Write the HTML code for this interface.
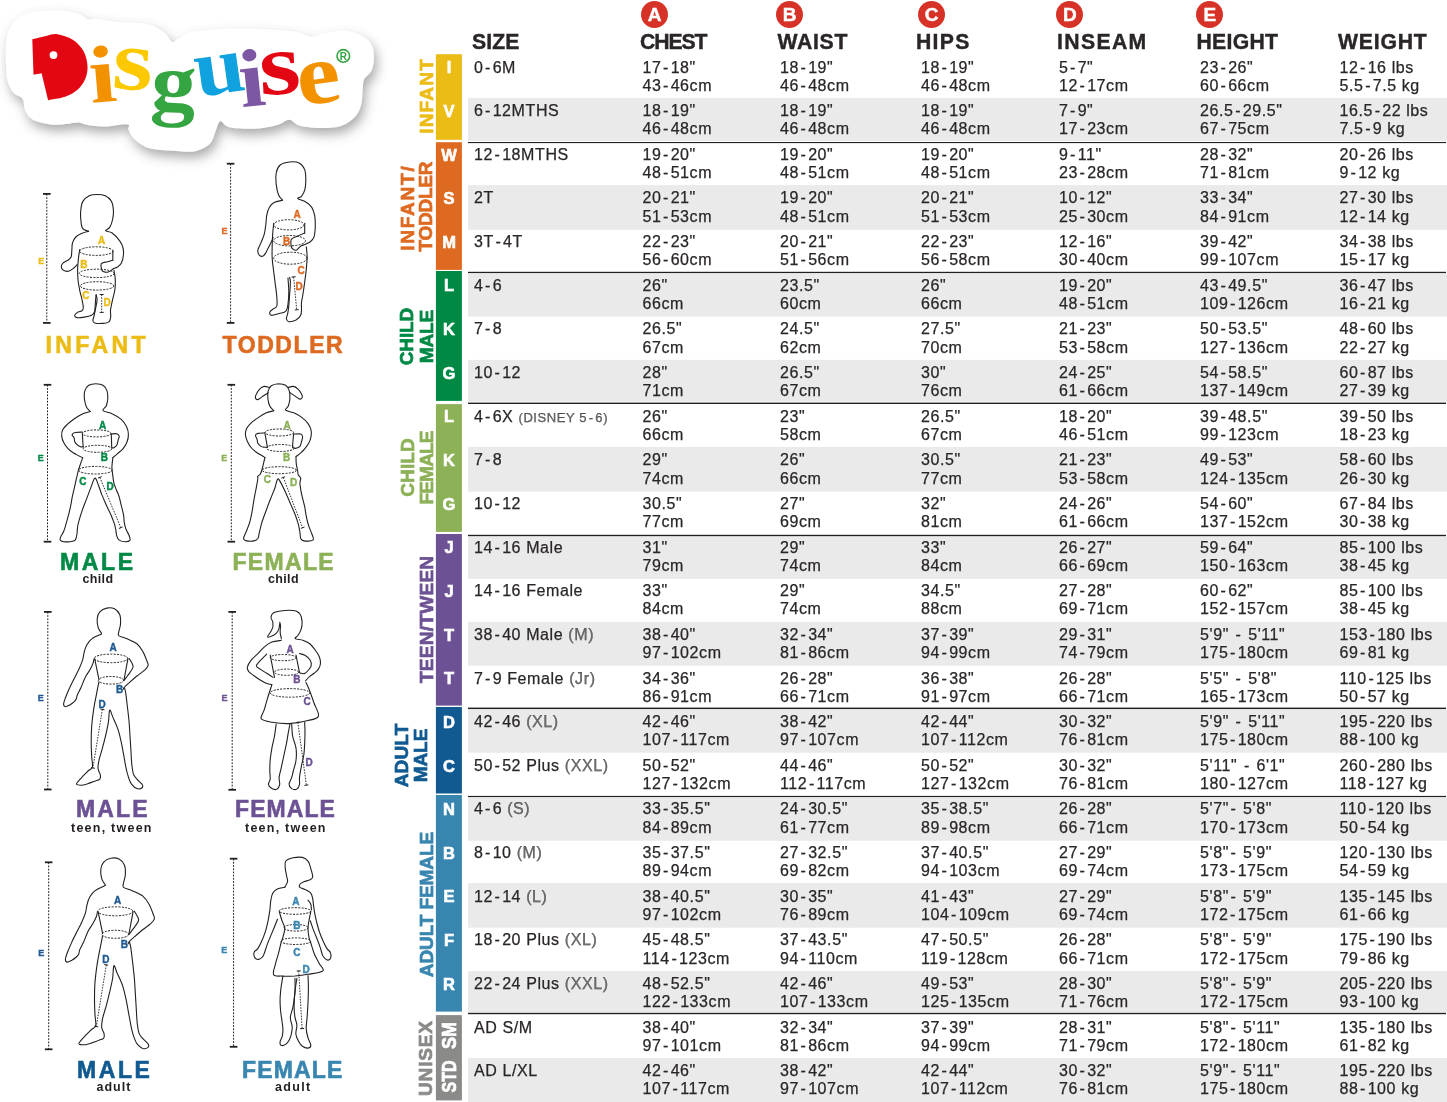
<!DOCTYPE html><html><head><meta charset='utf-8'><style>
*{margin:0;padding:0;box-sizing:border-box}
html,body{width:1447px;height:1102px;overflow:hidden;background:#fff}
body{position:relative;font-family:"Liberation Sans",Arial,sans-serif;color:#2a2627}
.a{position:absolute;white-space:nowrap}
.rowbg{position:absolute;left:468px;width:979px;background:#eaeaea}
.sep{position:absolute;left:468px;width:978px;height:1.6px;background:#231f20}
.cell{-webkit-text-stroke:0.25px #2a2627;position:absolute;white-space:nowrap;font-size:16.0px;line-height:18.2px;letter-spacing:0.6px}
.cell i{font-style:normal;margin:0 1.6px}
.q{color:#6e6e6e}
.q.s{font-size:13px}
.hd{-webkit-text-stroke:0.4px #2a2627;position:absolute;white-space:nowrap;font-weight:bold;font-size:21.2px;line-height:1}
.circ{position:absolute;width:27px;height:27px;border-radius:50%;background:#d73228;color:#fff;font-weight:bold;font-size:19px;line-height:27px;text-align:center;-webkit-text-stroke:0.4px #fff}
.bar{position:absolute;left:436px;width:26px}
.bl{-webkit-text-stroke:0.6px #fff;position:absolute;left:436px;width:26px;text-align:center;color:#fff;font-weight:bold;font-size:16.5px;line-height:20px}
.glab{-webkit-text-stroke:0.7px currentColor;position:absolute;font-weight:bold;font-size:19px;line-height:19px;letter-spacing:1px;text-align:center;white-space:nowrap;transform:rotate(-90deg);transform-origin:center center}
.flab{-webkit-text-stroke:0.6px currentColor;position:absolute;font-weight:bold;font-size:23px;line-height:1;white-space:nowrap}
.fsub{position:absolute;font-weight:bold;font-size:12.5px;line-height:1;color:#231f20;white-space:nowrap}
</style></head><body>
<svg class="a" style="left:0;top:0" width="1447" height="1102" viewBox="0 0 1447 1102"><rect x="468" y="97.9" width="979" height="43.00" fill="#eaeaea"/><rect x="468" y="185.1" width="979" height="44.70" fill="#eaeaea"/><rect x="468" y="273.6" width="979" height="43.10" fill="#eaeaea"/><rect x="468" y="359.9" width="979" height="41.80" fill="#eaeaea"/><rect x="468" y="446.9" width="979" height="44.80" fill="#eaeaea"/><rect x="468" y="536.8" width="979" height="42.00" fill="#eaeaea"/><rect x="468" y="621.9" width="979" height="43.80" fill="#eaeaea"/><rect x="468" y="709.6" width="979" height="43.10" fill="#eaeaea"/><rect x="468" y="797.5" width="979" height="43.30" fill="#eaeaea"/><rect x="468" y="883.1" width="979" height="44.60" fill="#eaeaea"/><rect x="468" y="971.1" width="979" height="41.00" fill="#eaeaea"/><rect x="468" y="1058.0" width="979" height="44.00" fill="#eaeaea"/><rect x="468" y="142.0" width="978" height="1.10" fill="#231f20"/><rect x="468" y="271.8" width="978" height="1.30" fill="#231f20"/><rect x="468" y="402.6" width="978" height="1.40" fill="#231f20"/><rect x="468" y="534.8" width="978" height="1.40" fill="#231f20"/><rect x="468" y="707.6" width="978" height="1.50" fill="#231f20"/><rect x="468" y="795.9" width="978" height="1.20" fill="#231f20"/><rect x="468" y="1012.8" width="978" height="1.40" fill="#231f20"/><rect x="435.9" y="54.2" width="26" height="85.60" fill="#ecbc16"/><rect x="435.9" y="142.2" width="26" height="127.70" fill="#de6a22"/><rect x="435.9" y="271.0" width="26" height="129.90" fill="#008945"/><rect x="435.9" y="404.1" width="26" height="127.80" fill="#8cb157"/><rect x="435.9" y="534.0" width="26" height="171.60" fill="#6c5294"/><rect x="435.9" y="707.0" width="26" height="86.50" fill="#105a91"/><rect x="435.9" y="795.0" width="26" height="216.60" fill="#3886b0"/><rect x="435.9" y="1015.1" width="26" height="85.30" fill="#8a8a88"/></svg>
<div class="hd" style="left:472.00px;top:31.00px;letter-spacing:0.13px">SIZE</div>
<div class="hd" style="left:640.00px;top:31.00px;letter-spacing:-1.10px">CHEST</div>
<div class="circ" style="left:641.00px;top:1px">A</div>
<div class="hd" style="left:777.50px;top:31.00px;letter-spacing:0.70px">WAIST</div>
<div class="circ" style="left:776.20px;top:1px">B</div>
<div class="hd" style="left:916.00px;top:31.00px;letter-spacing:1.27px">HIPS</div>
<div class="circ" style="left:918.10px;top:1px">C</div>
<div class="hd" style="left:1057.00px;top:31.00px;letter-spacing:1.36px">INSEAM</div>
<div class="circ" style="left:1056.40px;top:1px">D</div>
<div class="hd" style="left:1196.50px;top:31.00px;letter-spacing:0.28px">HEIGHT</div>
<div class="circ" style="left:1196.30px;top:1px">E</div>
<div class="hd" style="left:1338.00px;top:31.00px;letter-spacing:0.80px">WEIGHT</div>
<div class="cell" style="left:474.0px;top:58.56px">0<i>-</i>6M</div>
<div class="cell" style="left:642.5px;top:58.56px">17<i>-</i>18&quot;<br>43<i>-</i>46cm</div>
<div class="cell" style="left:780.0px;top:58.56px">18<i>-</i>19&quot;<br>46<i>-</i>48cm</div>
<div class="cell" style="left:921.0px;top:58.56px">18<i>-</i>19&quot;<br>46<i>-</i>48cm</div>
<div class="cell" style="left:1059.0px;top:58.56px">5<i>-</i>7&quot;<br>12<i>-</i>17cm</div>
<div class="cell" style="left:1200.0px;top:58.56px">23<i>-</i>26&quot;<br>60<i>-</i>66cm</div>
<div class="cell" style="left:1339.5px;top:58.56px">12<i>-</i>16 lbs<br>5.5<i>-</i>7.5 kg</div>
<div class="cell" style="left:474.0px;top:102.20px">6<i>-</i>12MTHS</div>
<div class="cell" style="left:642.5px;top:102.20px">18<i>-</i>19&quot;<br>46<i>-</i>48cm</div>
<div class="cell" style="left:780.0px;top:102.20px">18<i>-</i>19&quot;<br>46<i>-</i>48cm</div>
<div class="cell" style="left:921.0px;top:102.20px">18<i>-</i>19&quot;<br>46<i>-</i>48cm</div>
<div class="cell" style="left:1059.0px;top:102.20px">7<i>-</i>9&quot;<br>17<i>-</i>23cm</div>
<div class="cell" style="left:1200.0px;top:102.20px">26.5<i>-</i>29.5&quot;<br>67<i>-</i>75cm</div>
<div class="cell" style="left:1339.5px;top:102.20px">16.5<i>-</i>22 lbs<br>7.5<i>-</i>9 kg</div>
<div class="cell" style="left:474.0px;top:145.84px">12<i>-</i>18MTHS</div>
<div class="cell" style="left:642.5px;top:145.84px">19<i>-</i>20&quot;<br>48<i>-</i>51cm</div>
<div class="cell" style="left:780.0px;top:145.84px">19<i>-</i>20&quot;<br>48<i>-</i>51cm</div>
<div class="cell" style="left:921.0px;top:145.84px">19<i>-</i>20&quot;<br>48<i>-</i>51cm</div>
<div class="cell" style="left:1059.0px;top:145.84px">9<i>-</i>11&quot;<br>23<i>-</i>28cm</div>
<div class="cell" style="left:1200.0px;top:145.84px">28<i>-</i>32&quot;<br>71<i>-</i>81cm</div>
<div class="cell" style="left:1339.5px;top:145.84px">20<i>-</i>26 lbs<br>9<i>-</i>12 kg</div>
<div class="cell" style="left:474.0px;top:189.48px">2T</div>
<div class="cell" style="left:642.5px;top:189.48px">20<i>-</i>21&quot;<br>51<i>-</i>53cm</div>
<div class="cell" style="left:780.0px;top:189.48px">19<i>-</i>20&quot;<br>48<i>-</i>51cm</div>
<div class="cell" style="left:921.0px;top:189.48px">20<i>-</i>21&quot;<br>51<i>-</i>53cm</div>
<div class="cell" style="left:1059.0px;top:189.48px">10<i>-</i>12&quot;<br>25<i>-</i>30cm</div>
<div class="cell" style="left:1200.0px;top:189.48px">33<i>-</i>34&quot;<br>84<i>-</i>91cm</div>
<div class="cell" style="left:1339.5px;top:189.48px">27<i>-</i>30 lbs<br>12<i>-</i>14 kg</div>
<div class="cell" style="left:474.0px;top:233.12px">3T<i>-</i>4T</div>
<div class="cell" style="left:642.5px;top:233.12px">22<i>-</i>23&quot;<br>56<i>-</i>60cm</div>
<div class="cell" style="left:780.0px;top:233.12px">20<i>-</i>21&quot;<br>51<i>-</i>56cm</div>
<div class="cell" style="left:921.0px;top:233.12px">22<i>-</i>23&quot;<br>56<i>-</i>58cm</div>
<div class="cell" style="left:1059.0px;top:233.12px">12<i>-</i>16&quot;<br>30<i>-</i>40cm</div>
<div class="cell" style="left:1200.0px;top:233.12px">39<i>-</i>42&quot;<br>99<i>-</i>107cm</div>
<div class="cell" style="left:1339.5px;top:233.12px">34<i>-</i>38 lbs<br>15<i>-</i>17 kg</div>
<div class="cell" style="left:474.0px;top:276.76px">4<i>-</i>6</div>
<div class="cell" style="left:642.5px;top:276.76px">26&quot;<br>66cm</div>
<div class="cell" style="left:780.0px;top:276.76px">23.5&quot;<br>60cm</div>
<div class="cell" style="left:921.0px;top:276.76px">26&quot;<br>66cm</div>
<div class="cell" style="left:1059.0px;top:276.76px">19<i>-</i>20&quot;<br>48<i>-</i>51cm</div>
<div class="cell" style="left:1200.0px;top:276.76px">43<i>-</i>49.5&quot;<br>109<i>-</i>126cm</div>
<div class="cell" style="left:1339.5px;top:276.76px">36<i>-</i>47 lbs<br>16<i>-</i>21 kg</div>
<div class="cell" style="left:474.0px;top:320.40px">7<i>-</i>8</div>
<div class="cell" style="left:642.5px;top:320.40px">26.5&quot;<br>67cm</div>
<div class="cell" style="left:780.0px;top:320.40px">24.5&quot;<br>62cm</div>
<div class="cell" style="left:921.0px;top:320.40px">27.5&quot;<br>70cm</div>
<div class="cell" style="left:1059.0px;top:320.40px">21<i>-</i>23&quot;<br>53<i>-</i>58cm</div>
<div class="cell" style="left:1200.0px;top:320.40px">50<i>-</i>53.5&quot;<br>127<i>-</i>136cm</div>
<div class="cell" style="left:1339.5px;top:320.40px">48<i>-</i>60 lbs<br>22<i>-</i>27 kg</div>
<div class="cell" style="left:474.0px;top:364.04px">10<i>-</i>12</div>
<div class="cell" style="left:642.5px;top:364.04px">28&quot;<br>71cm</div>
<div class="cell" style="left:780.0px;top:364.04px">26.5&quot;<br>67cm</div>
<div class="cell" style="left:921.0px;top:364.04px">30&quot;<br>76cm</div>
<div class="cell" style="left:1059.0px;top:364.04px">24<i>-</i>25&quot;<br>61<i>-</i>66cm</div>
<div class="cell" style="left:1200.0px;top:364.04px">54<i>-</i>58.5&quot;<br>137<i>-</i>149cm</div>
<div class="cell" style="left:1339.5px;top:364.04px">60<i>-</i>87 lbs<br>27<i>-</i>39 kg</div>
<div class="cell" style="left:474.0px;top:407.68px">4<i>-</i>6X <span class="q s">(DISNEY 5<i>-</i>6)</span></div>
<div class="cell" style="left:642.5px;top:407.68px">26&quot;<br>66cm</div>
<div class="cell" style="left:780.0px;top:407.68px">23&quot;<br>58cm</div>
<div class="cell" style="left:921.0px;top:407.68px">26.5&quot;<br>67cm</div>
<div class="cell" style="left:1059.0px;top:407.68px">18<i>-</i>20&quot;<br>46<i>-</i>51cm</div>
<div class="cell" style="left:1200.0px;top:407.68px">39<i>-</i>48.5&quot;<br>99<i>-</i>123cm</div>
<div class="cell" style="left:1339.5px;top:407.68px">39<i>-</i>50 lbs<br>18<i>-</i>23 kg</div>
<div class="cell" style="left:474.0px;top:451.32px">7<i>-</i>8</div>
<div class="cell" style="left:642.5px;top:451.32px">29&quot;<br>74cm</div>
<div class="cell" style="left:780.0px;top:451.32px">26&quot;<br>66cm</div>
<div class="cell" style="left:921.0px;top:451.32px">30.5&quot;<br>77cm</div>
<div class="cell" style="left:1059.0px;top:451.32px">21<i>-</i>23&quot;<br>53<i>-</i>58cm</div>
<div class="cell" style="left:1200.0px;top:451.32px">49<i>-</i>53&quot;<br>124<i>-</i>135cm</div>
<div class="cell" style="left:1339.5px;top:451.32px">58<i>-</i>60 lbs<br>26<i>-</i>30 kg</div>
<div class="cell" style="left:474.0px;top:494.96px">10<i>-</i>12</div>
<div class="cell" style="left:642.5px;top:494.96px">30.5&quot;<br>77cm</div>
<div class="cell" style="left:780.0px;top:494.96px">27&quot;<br>69cm</div>
<div class="cell" style="left:921.0px;top:494.96px">32&quot;<br>81cm</div>
<div class="cell" style="left:1059.0px;top:494.96px">24<i>-</i>26&quot;<br>61<i>-</i>66cm</div>
<div class="cell" style="left:1200.0px;top:494.96px">54<i>-</i>60&quot;<br>137<i>-</i>152cm</div>
<div class="cell" style="left:1339.5px;top:494.96px">67<i>-</i>84 lbs<br>30<i>-</i>38 kg</div>
<div class="cell" style="left:474.0px;top:538.60px">14<i>-</i>16 Male</div>
<div class="cell" style="left:642.5px;top:538.60px">31&quot;<br>79cm</div>
<div class="cell" style="left:780.0px;top:538.60px">29&quot;<br>74cm</div>
<div class="cell" style="left:921.0px;top:538.60px">33&quot;<br>84cm</div>
<div class="cell" style="left:1059.0px;top:538.60px">26<i>-</i>27&quot;<br>66<i>-</i>69cm</div>
<div class="cell" style="left:1200.0px;top:538.60px">59<i>-</i>64&quot;<br>150<i>-</i>163cm</div>
<div class="cell" style="left:1339.5px;top:538.60px">85<i>-</i>100 lbs<br>38<i>-</i>45 kg</div>
<div class="cell" style="left:474.0px;top:582.24px">14<i>-</i>16 Female</div>
<div class="cell" style="left:642.5px;top:582.24px">33&quot;<br>84cm</div>
<div class="cell" style="left:780.0px;top:582.24px">29&quot;<br>74cm</div>
<div class="cell" style="left:921.0px;top:582.24px">34.5&quot;<br>88cm</div>
<div class="cell" style="left:1059.0px;top:582.24px">27<i>-</i>28&quot;<br>69<i>-</i>71cm</div>
<div class="cell" style="left:1200.0px;top:582.24px">60<i>-</i>62&quot;<br>152<i>-</i>157cm</div>
<div class="cell" style="left:1339.5px;top:582.24px">85<i>-</i>100 lbs<br>38<i>-</i>45 kg</div>
<div class="cell" style="left:474.0px;top:625.88px">38<i>-</i>40 Male <span class="q">(M)</span></div>
<div class="cell" style="left:642.5px;top:625.88px">38<i>-</i>40&quot;<br>97<i>-</i>102cm</div>
<div class="cell" style="left:780.0px;top:625.88px">32<i>-</i>34&quot;<br>81<i>-</i>86cm</div>
<div class="cell" style="left:921.0px;top:625.88px">37<i>-</i>39&quot;<br>94<i>-</i>99cm</div>
<div class="cell" style="left:1059.0px;top:625.88px">29<i>-</i>31&quot;<br>74<i>-</i>79cm</div>
<div class="cell" style="left:1200.0px;top:625.88px">5&#x27;9&quot; <i>-</i> 5&#x27;11&quot;<br>175<i>-</i>180cm</div>
<div class="cell" style="left:1339.5px;top:625.88px">153<i>-</i>180 lbs<br>69<i>-</i>81 kg</div>
<div class="cell" style="left:474.0px;top:669.52px">7<i>-</i>9 Female <span class="q">(Jr)</span></div>
<div class="cell" style="left:642.5px;top:669.52px">34<i>-</i>36&quot;<br>86<i>-</i>91cm</div>
<div class="cell" style="left:780.0px;top:669.52px">26<i>-</i>28&quot;<br>66<i>-</i>71cm</div>
<div class="cell" style="left:921.0px;top:669.52px">36<i>-</i>38&quot;<br>91<i>-</i>97cm</div>
<div class="cell" style="left:1059.0px;top:669.52px">26<i>-</i>28&quot;<br>66<i>-</i>71cm</div>
<div class="cell" style="left:1200.0px;top:669.52px">5&#x27;5&quot; <i>-</i> 5&#x27;8&quot;<br>165<i>-</i>173cm</div>
<div class="cell" style="left:1339.5px;top:669.52px">110<i>-</i>125 lbs<br>50<i>-</i>57 kg</div>
<div class="cell" style="left:474.0px;top:713.16px">42<i>-</i>46 <span class="q">(XL)</span></div>
<div class="cell" style="left:642.5px;top:713.16px">42<i>-</i>46&quot;<br>107<i>-</i>117cm</div>
<div class="cell" style="left:780.0px;top:713.16px">38<i>-</i>42&quot;<br>97<i>-</i>107cm</div>
<div class="cell" style="left:921.0px;top:713.16px">42<i>-</i>44&quot;<br>107<i>-</i>112cm</div>
<div class="cell" style="left:1059.0px;top:713.16px">30<i>-</i>32&quot;<br>76<i>-</i>81cm</div>
<div class="cell" style="left:1200.0px;top:713.16px">5&#x27;9&quot; <i>-</i> 5&#x27;11&quot;<br>175<i>-</i>180cm</div>
<div class="cell" style="left:1339.5px;top:713.16px">195<i>-</i>220 lbs<br>88<i>-</i>100 kg</div>
<div class="cell" style="left:474.0px;top:756.80px">50<i>-</i>52 Plus <span class="q">(XXL)</span></div>
<div class="cell" style="left:642.5px;top:756.80px">50<i>-</i>52&quot;<br>127<i>-</i>132cm</div>
<div class="cell" style="left:780.0px;top:756.80px">44<i>-</i>46&quot;<br>112<i>-</i>117cm</div>
<div class="cell" style="left:921.0px;top:756.80px">50<i>-</i>52&quot;<br>127<i>-</i>132cm</div>
<div class="cell" style="left:1059.0px;top:756.80px">30<i>-</i>32&quot;<br>76<i>-</i>81cm</div>
<div class="cell" style="left:1200.0px;top:756.80px">5&#x27;11&quot; <i>-</i> 6&#x27;1&quot;<br>180<i>-</i>127cm</div>
<div class="cell" style="left:1339.5px;top:756.80px">260<i>-</i>280 lbs<br>118<i>-</i>127 kg</div>
<div class="cell" style="left:474.0px;top:800.44px">4<i>-</i>6 <span class="q">(S)</span></div>
<div class="cell" style="left:642.5px;top:800.44px">33<i>-</i>35.5&quot;<br>84<i>-</i>89cm</div>
<div class="cell" style="left:780.0px;top:800.44px">24<i>-</i>30.5&quot;<br>61<i>-</i>77cm</div>
<div class="cell" style="left:921.0px;top:800.44px">35<i>-</i>38.5&quot;<br>89<i>-</i>98cm</div>
<div class="cell" style="left:1059.0px;top:800.44px">26<i>-</i>28&quot;<br>66<i>-</i>71cm</div>
<div class="cell" style="left:1200.0px;top:800.44px">5&#x27;7&quot;<i>-</i> 5&#x27;8&quot;<br>170<i>-</i>173cm</div>
<div class="cell" style="left:1339.5px;top:800.44px">110<i>-</i>120 lbs<br>50<i>-</i>54 kg</div>
<div class="cell" style="left:474.0px;top:844.08px">8<i>-</i>10 <span class="q">(M)</span></div>
<div class="cell" style="left:642.5px;top:844.08px">35<i>-</i>37.5&quot;<br>89<i>-</i>94cm</div>
<div class="cell" style="left:780.0px;top:844.08px">27<i>-</i>32.5&quot;<br>69<i>-</i>82cm</div>
<div class="cell" style="left:921.0px;top:844.08px">37<i>-</i>40.5&quot;<br>94<i>-</i>103cm</div>
<div class="cell" style="left:1059.0px;top:844.08px">27<i>-</i>29&quot;<br>69<i>-</i>74cm</div>
<div class="cell" style="left:1200.0px;top:844.08px">5&#x27;8&quot;<i>-</i> 5&#x27;9&quot;<br>173<i>-</i>175cm</div>
<div class="cell" style="left:1339.5px;top:844.08px">120<i>-</i>130 lbs<br>54<i>-</i>59 kg</div>
<div class="cell" style="left:474.0px;top:887.72px">12<i>-</i>14 <span class="q">(L)</span></div>
<div class="cell" style="left:642.5px;top:887.72px">38<i>-</i>40.5&quot;<br>97<i>-</i>102cm</div>
<div class="cell" style="left:780.0px;top:887.72px">30<i>-</i>35&quot;<br>76<i>-</i>89cm</div>
<div class="cell" style="left:921.0px;top:887.72px">41<i>-</i>43&quot;<br>104<i>-</i>109cm</div>
<div class="cell" style="left:1059.0px;top:887.72px">27<i>-</i>29&quot;<br>69<i>-</i>74cm</div>
<div class="cell" style="left:1200.0px;top:887.72px">5&#x27;8&quot;<i>-</i> 5&#x27;9&quot;<br>172<i>-</i>175cm</div>
<div class="cell" style="left:1339.5px;top:887.72px">135<i>-</i>145 lbs<br>61<i>-</i>66 kg</div>
<div class="cell" style="left:474.0px;top:931.36px">18<i>-</i>20 Plus <span class="q">(XL)</span></div>
<div class="cell" style="left:642.5px;top:931.36px">45<i>-</i>48.5&quot;<br>114<i>-</i>123cm</div>
<div class="cell" style="left:780.0px;top:931.36px">37<i>-</i>43.5&quot;<br>94<i>-</i>110cm</div>
<div class="cell" style="left:921.0px;top:931.36px">47<i>-</i>50.5&quot;<br>119<i>-</i>128cm</div>
<div class="cell" style="left:1059.0px;top:931.36px">26<i>-</i>28&quot;<br>66<i>-</i>71cm</div>
<div class="cell" style="left:1200.0px;top:931.36px">5&#x27;8&quot;<i>-</i> 5&#x27;9&quot;<br>172<i>-</i>175cm</div>
<div class="cell" style="left:1339.5px;top:931.36px">175<i>-</i>190 lbs<br>79<i>-</i>86 kg</div>
<div class="cell" style="left:474.0px;top:975.00px">22<i>-</i>24 Plus <span class="q">(XXL)</span></div>
<div class="cell" style="left:642.5px;top:975.00px">48<i>-</i>52.5&quot;<br>122<i>-</i>133cm</div>
<div class="cell" style="left:780.0px;top:975.00px">42<i>-</i>46&quot;<br>107<i>-</i>133cm</div>
<div class="cell" style="left:921.0px;top:975.00px">49<i>-</i>53&quot;<br>125<i>-</i>135cm</div>
<div class="cell" style="left:1059.0px;top:975.00px">28<i>-</i>30&quot;<br>71<i>-</i>76cm</div>
<div class="cell" style="left:1200.0px;top:975.00px">5&#x27;8&quot;<i>-</i> 5&#x27;9&quot;<br>172<i>-</i>175cm</div>
<div class="cell" style="left:1339.5px;top:975.00px">205<i>-</i>220 lbs<br>93<i>-</i>100 kg</div>
<div class="cell" style="left:474.0px;top:1018.64px">AD S/M</div>
<div class="cell" style="left:642.5px;top:1018.64px">38<i>-</i>40&quot;<br>97<i>-</i>101cm</div>
<div class="cell" style="left:780.0px;top:1018.64px">32<i>-</i>34&quot;<br>81<i>-</i>86cm</div>
<div class="cell" style="left:921.0px;top:1018.64px">37<i>-</i>39&quot;<br>94<i>-</i>99cm</div>
<div class="cell" style="left:1059.0px;top:1018.64px">28<i>-</i>31&quot;<br>71<i>-</i>79cm</div>
<div class="cell" style="left:1200.0px;top:1018.64px">5&#x27;8&quot;<i>-</i> 5&#x27;11&quot;<br>172<i>-</i>180cm</div>
<div class="cell" style="left:1339.5px;top:1018.64px">135<i>-</i>180 lbs<br>61<i>-</i>82 kg</div>
<div class="cell" style="left:474.0px;top:1062.28px">AD L/XL</div>
<div class="cell" style="left:642.5px;top:1062.28px">42<i>-</i>46&quot;<br>107<i>-</i>117cm</div>
<div class="cell" style="left:780.0px;top:1062.28px">38<i>-</i>42&quot;<br>97<i>-</i>107cm</div>
<div class="cell" style="left:921.0px;top:1062.28px">42<i>-</i>44&quot;<br>107<i>-</i>112cm</div>
<div class="cell" style="left:1059.0px;top:1062.28px">30<i>-</i>32&quot;<br>76<i>-</i>81cm</div>
<div class="cell" style="left:1200.0px;top:1062.28px">5&#x27;9&quot;<i>-</i> 5&#x27;11&quot;<br>175<i>-</i>180cm</div>
<div class="cell" style="left:1339.5px;top:1062.28px">195<i>-</i>220 lbs<br>88<i>-</i>100 kg</div>
<div class="bl" style="top:57.28px">I</div>
<div class="bl" style="top:100.92px">V</div>
<div class="bl" style="top:144.56px">W</div>
<div class="bl" style="top:188.20px">S</div>
<div class="bl" style="top:231.84px">M</div>
<div class="bl" style="top:275.48px">L</div>
<div class="bl" style="top:319.12px">K</div>
<div class="bl" style="top:362.76px">G</div>
<div class="bl" style="top:406.40px">L</div>
<div class="bl" style="top:450.04px">K</div>
<div class="bl" style="top:493.68px">G</div>
<div class="bl" style="top:537.32px">J</div>
<div class="bl" style="top:580.96px">J</div>
<div class="bl" style="top:624.60px">T</div>
<div class="bl" style="top:668.24px">T</div>
<div class="bl" style="top:711.88px">D</div>
<div class="bl" style="top:755.52px">C</div>
<div class="bl" style="top:799.16px">N</div>
<div class="bl" style="top:842.80px">B</div>
<div class="bl" style="top:886.44px">E</div>
<div class="bl" style="top:930.08px">F</div>
<div class="bl" style="top:973.72px">R</div>
<div class="glab" style="left:325.50px;top:86.70px;width:200px;color:#ecbc16;letter-spacing:1.22px"><span class="gl" style="display:inline-block;margin-left:1.22px">INFANT</span></div>
<div class="glab" style="left:306.60px;top:198.90px;width:200px;color:#de6a22;letter-spacing:1.77px"><span class="gl" style="display:inline-block;margin-left:1.77px">INFANT/</span></div>
<div class="glab" style="left:325.40px;top:197.10px;width:200px;color:#de6a22;letter-spacing:-0.28px"><span class="gl" style="display:inline-block;margin-left:-0.28px">TODDLER</span></div>
<div class="glab" style="left:306.40px;top:326.50px;width:200px;color:#008945;letter-spacing:-0.14px"><span class="gl" style="display:inline-block;margin-left:-0.14px">CHILD</span></div>
<div class="glab" style="left:326.00px;top:327.30px;width:200px;color:#008945;letter-spacing:-0.11px"><span class="gl" style="display:inline-block;margin-left:-0.11px">MALE</span></div>
<div class="glab" style="left:306.50px;top:458.00px;width:200px;color:#8cb157;letter-spacing:0.11px"><span class="gl" style="display:inline-block;margin-left:0.11px">CHILD</span></div>
<div class="glab" style="left:326.00px;top:457.80px;width:200px;color:#8cb157;letter-spacing:-0.80px"><span class="gl" style="display:inline-block;margin-left:-0.80px">FEMALE</span></div>
<div class="glab" style="left:325.90px;top:610.00px;width:200px;color:#6c5294;letter-spacing:0.29px"><span class="gl" style="display:inline-block;margin-left:0.29px">TEEN/TWEEN</span></div>
<div class="glab" style="left:300.80px;top:746.20px;width:200px;color:#105a91;letter-spacing:0.13px"><span class="gl" style="display:inline-block;margin-left:0.13px">ADULT</span></div>
<div class="glab" style="left:319.90px;top:745.60px;width:200px;color:#105a91;letter-spacing:-0.04px"><span class="gl" style="display:inline-block;margin-left:-0.04px">MALE</span></div>
<div class="glab" style="left:325.60px;top:895.00px;width:200px;color:#3886b0;letter-spacing:-0.09px"><span class="gl" style="display:inline-block;margin-left:-0.09px">ADULT FEMALE</span></div>
<div class="glab" style="left:325.20px;top:1048.50px;width:200px;color:#8a8a88;letter-spacing:0.83px"><span class="gl" style="display:inline-block;margin-left:0.83px">UNISEX</span></div>
<div class="glab" style="left:349.2px;top:1025.8px;width:200px;color:#fff;font-size:20px;line-height:19px;letter-spacing:0;transform:rotate(-90deg) scaleX(0.9)">SM</div>
<div class="glab" style="left:349.2px;top:1067.4px;width:200px;color:#fff;font-size:20px;line-height:19px;letter-spacing:0;transform:rotate(-90deg) scaleX(0.8)">STD</div>
<svg class="a" style="left:0;top:0" width="400" height="170" viewBox="0 0 400 170"><defs><filter id="sh" x="-10%" y="-10%" width="130%" height="140%"><feGaussianBlur in="SourceAlpha" stdDeviation="6"/><feOffset dx="3" dy="6" result="b"/><feFlood flood-color="#555" flood-opacity="0.5"/><feComposite in2="b" operator="in"/><feMerge><feMergeNode/><feMergeNode in="SourceGraphic"/></feMerge></filter></defs><path d="M6.0,44.9 C6.5,39.4 7.2,34.1 9.0,29.9 C10.8,25.7 13.0,22.4 16.5,19.5 C20.0,16.6 24.4,14.2 29.9,12.7 C35.4,11.2 43.1,10.8 49.4,10.5 C55.6,10.2 62.2,10.4 67.4,11.2 C72.6,11.9 77.3,13.6 80.8,15.0 C84.3,16.4 85.5,18.9 88.3,19.5 C91.0,20.1 92.8,18.3 97.3,18.7 C101.8,19.1 110.1,21.1 115.3,21.7 C120.5,22.3 123.0,22.0 128.7,22.5 C134.4,23.0 143.7,23.0 149.7,24.7 C155.7,26.4 160.9,30.0 164.7,32.9 C168.4,35.8 169.7,41.0 172.2,41.9 C174.7,42.8 175.8,39.9 179.6,38.2 C183.4,36.5 184.9,33.1 195.0,31.5 C205.1,29.9 225.0,28.5 240.0,28.4 C255.0,28.3 275.0,29.9 285.0,30.7 C295.0,31.5 295.6,32.0 300.0,33.0 C304.4,34.0 308.0,36.6 311.7,36.7 C315.4,36.8 316.7,34.7 322.2,33.7 C327.7,32.7 338.0,30.3 344.7,30.7 C351.4,31.1 358.1,33.6 362.6,36.0 C367.1,38.4 369.7,41.5 371.6,45.0 C373.5,48.5 373.9,52.7 373.9,56.9 C373.9,61.1 373.2,66.7 371.6,70.4 C370.0,74.1 365.6,76.1 364.1,79.3 C362.6,82.5 363.1,85.5 362.6,89.8 C362.1,94.0 362.4,100.3 361.1,104.8 C359.9,109.3 358.3,113.3 355.1,116.8 C351.9,120.3 347.2,123.8 341.7,125.7 C336.2,127.6 329.2,128.0 322.2,128.0 C315.2,128.0 305.3,127.1 299.8,125.7 C294.3,124.3 293.1,119.9 289.3,119.8 C285.6,119.7 283.0,123.5 277.3,125.0 C271.6,126.5 262.9,128.3 254.9,128.7 C246.9,129.1 235.2,128.4 229.4,127.2 C223.7,126.0 222.7,120.8 220.4,121.3 C218.2,121.8 217.7,126.5 215.9,130.2 C214.2,133.9 213.4,140.2 209.9,143.7 C206.4,147.2 200.1,149.9 195.0,151.2 C189.9,152.4 187.2,151.7 179.6,151.2 C172.0,150.7 157.2,150.2 149.7,148.2 C142.2,146.2 138.2,142.2 134.7,139.2 C131.2,136.2 129.9,132.7 128.7,130.2 C127.4,127.7 131.2,124.9 127.2,124.3 C123.2,123.7 111.3,126.4 104.8,126.5 C98.3,126.6 92.5,125.7 88.0,125.0 C83.5,124.3 82.1,122.6 77.8,122.5 C73.5,122.4 66.7,124.2 62.0,124.5 C57.3,124.8 54.2,125.1 49.4,124.3 C44.5,123.5 36.9,122.0 32.9,119.8 C28.9,117.5 27.1,114.3 25.4,110.8 C23.7,107.3 24.5,101.8 22.5,98.8 C20.5,95.8 16.0,95.8 13.5,92.8 C11.0,89.8 8.8,85.8 7.5,80.8 C6.2,75.8 6.2,68.9 6.0,62.9 C5.8,56.9 5.5,50.4 6.0,44.9Z" fill="#fff" filter="url(#sh)"/><path d="M32.3,39.3 L48.1,35.4  C49.6,35.2 53.3,33.6 57.4,34.3 C61.5,35.0 68.4,36.9 72.8,39.7 C77.2,42.5 81.1,46.8 83.6,51.2 C86.0,55.6 87.2,61.3 87.5,65.9 C87.8,70.5 86.9,75.0 85.2,79.0 C83.5,83.0 80.8,86.8 77.5,89.8 C74.2,92.8 70.0,95.1 65.1,96.8 C60.2,98.5 50.9,99.6 48.1,100.2 L41.6,73.2 L33.5,74.8 Z" fill="#e30613"/><circle cx="53.5" cy="55.1" r="3.9" fill="#fff"/><text font-family="Liberation Serif, serif" font-weight="bold" font-size="92" fill="#f39200" transform="translate(91.30 102.90) rotate(-5) scale(1.057 0.886)">i</text><text font-family="Liberation Serif, serif" font-weight="bold" font-size="92" fill="#fcc800" transform="translate(111.25 88.10) rotate(4) scale(1.126 0.942)">s</text><text font-family="Liberation Serif, serif" font-weight="bold" font-size="92" fill="#35a541" transform="translate(149.90 108.50) rotate(3) scale(0.982 0.894)">g</text><text font-family="Liberation Serif, serif" font-weight="bold" font-size="92" fill="#10a2de" transform="translate(197.75 96.80) rotate(-8) scale(0.981 0.898)">u</text><text font-family="Liberation Serif, serif" font-weight="bold" font-size="92" fill="#7e57a4" transform="translate(241.55 107.30) rotate(-6) scale(1.017 0.894)">i</text><text font-family="Liberation Serif, serif" font-weight="bold" font-size="92" fill="#e30613" transform="translate(260.15 95.10) rotate(-3) scale(1.163 0.965)">s</text><text font-family="Liberation Serif, serif" font-weight="bold" font-size="92" fill="#f39200" transform="translate(300.05 106.10) rotate(-8) scale(1.066 0.942)">e</text><circle cx="343.3" cy="55.9" r="6.3" fill="none" stroke="#35a541" stroke-width="1.6"/><text x="343.4" y="59.6" text-anchor="middle" font-family="Liberation Sans, sans-serif" font-weight="bold" font-size="10" fill="#35a541">R</text></svg>
<svg class="a" style="left:0;top:0" width="400" height="1102" viewBox="0 0 400 1102" font-family="Liberation Sans, Arial, sans-serif"><path d="M88.6,231.3 C87.6,230.8 83.9,230.4 82.6,228.4 C81.3,226.4 81.1,222.5 80.8,219.5 C80.5,216.4 80.4,213.0 80.8,210.0 C81.1,207.0 81.5,203.8 82.9,201.4 C84.3,199.1 86.8,197.0 89.2,195.8 C91.6,194.6 94.4,194.5 97.1,194.5 C99.8,194.5 102.9,194.7 105.3,195.8 C107.6,196.9 110.0,198.7 111.3,201.1 C112.7,203.4 113.2,206.9 113.4,210.0 C113.6,213.1 113.2,216.6 112.6,219.5 C112.0,222.4 110.9,225.5 109.7,227.4 C108.6,229.3 105.2,229.8 105.7,230.8 C106.1,231.7 109.9,231.3 112.2,233.0 C114.6,234.7 118.1,238.6 119.9,241.1 C121.6,243.5 122.3,245.2 122.9,247.5 C123.5,249.8 123.7,252.4 123.4,255.0 C123.2,257.6 122.5,261.0 121.4,263.0 C120.4,265.0 118.8,266.0 117.4,267.0 C115.9,268.0 114.1,268.3 112.9,268.9 C111.7,269.6 111.3,270.4 110.4,270.9 C109.5,271.5 108.4,272.1 107.4,272.2 C106.3,272.4 104.9,272.2 103.9,271.8 C103.0,271.5 102.3,271.4 101.8,270.0 C101.4,268.6 100.5,264.9 101.4,263.6 C102.4,262.2 105.7,262.3 107.6,261.7 C109.5,261.2 111.9,260.5 112.8,260.3" fill="none" stroke="#231f20" stroke-width="1.1" stroke-linecap="round" stroke-linejoin="round"/>
<path d="M112.9,251.1 C112.9,252.6 112.8,258.7 112.8,260.3" fill="none" stroke="#231f20" stroke-width="1.1" stroke-linecap="round" stroke-linejoin="round"/>
<path d="M88.6,231.3 C87.4,231.7 83.7,232.5 81.6,233.4 C79.5,234.4 77.3,235.4 75.8,237.0 C74.3,238.6 73.2,240.6 72.5,242.9 C71.8,245.2 72.1,248.4 71.8,250.8 C71.6,253.2 71.7,255.6 71.1,257.1 C70.4,258.6 69.5,259.0 68.2,260.0 C66.8,261.0 64.3,261.8 63.2,262.9 C62.0,264.0 61.3,265.4 61.3,266.6 C61.4,267.8 62.2,269.5 63.4,270.3 C64.6,271.0 66.8,271.5 68.4,271.2 C70.1,270.9 72.0,269.4 73.4,268.3 C74.9,267.2 76.5,265.3 77.1,264.7" fill="none" stroke="#231f20" stroke-width="1.1" stroke-linecap="round" stroke-linejoin="round"/>
<path d="M79.7,249.5 C79.5,251.0 78.8,255.4 78.4,258.7 C78.1,262.0 77.7,265.7 77.6,269.2 C77.6,272.7 77.7,276.2 78.0,279.7 C78.4,283.2 79.1,287.0 79.7,290.3 C80.4,293.6 81.4,296.6 82.0,299.5 C82.6,302.3 83.3,305.5 83.3,307.4 C83.3,309.2 83.0,309.8 82.0,310.7 C81.0,311.5 78.6,311.6 77.4,312.4 C76.2,313.1 74.8,314.4 74.7,315.3 C74.6,316.1 75.3,317.3 76.8,317.6 C78.4,317.9 81.8,317.5 84.2,317.1 C86.7,316.7 89.9,316.1 91.6,315.3 C93.3,314.4 93.9,313.8 94.5,312.0 C95.1,310.1 95.0,306.9 95.3,304.1 C95.5,301.2 95.9,296.4 96.1,294.9" fill="none" stroke="#231f20" stroke-width="1.1" stroke-linecap="round" stroke-linejoin="round"/>
<path d="M96.1,294.9 C96.2,295.6 97.1,297.4 97.1,299.5 C97.1,301.6 96.3,304.7 95.8,307.4 C95.3,310.0 94.7,313.1 94.2,315.3 C93.7,317.5 92.8,319.3 92.9,320.5 C93.0,321.8 93.2,322.4 94.7,322.9 C96.3,323.4 99.7,323.6 102.1,323.4 C104.5,323.2 107.5,323.0 108.9,321.8 C110.4,320.7 110.4,318.6 110.7,316.6 C110.9,314.6 110.2,312.9 110.5,310.0 C110.9,307.1 111.9,303.0 112.6,299.5 C113.4,296.0 114.6,292.2 115.0,288.9 C115.4,285.7 115.4,282.9 115.3,279.7 C115.1,276.6 114.2,271.6 113.9,270.0" fill="none" stroke="#231f20" stroke-width="1.1" stroke-linecap="round" stroke-linejoin="round"/>
<ellipse cx="96.4" cy="251.1" rx="16.7" ry="4.3" fill="none" stroke="#231f20" stroke-width="1" stroke-dasharray="2 1.3"/>
<ellipse cx="96.7" cy="273.4" rx="17.5" ry="4.2" fill="none" stroke="#231f20" stroke-width="1" stroke-dasharray="2 1.3"/>
<ellipse cx="97.1" cy="285.9" rx="16.7" ry="4.2" fill="none" stroke="#231f20" stroke-width="1" stroke-dasharray="2 1.3"/>
<line x1="101.7" y1="294.5" x2="101.7" y2="312.4" stroke="#231f20" stroke-width="0.9" stroke-dasharray="1.6 1.2"/>
<line x1="103.7" y1="294.5" x2="99.7" y2="294.5" stroke="#231f20" stroke-width="1"/>
<line x1="103.7" y1="312.4" x2="99.7" y2="312.4" stroke="#231f20" stroke-width="1"/>
<line x1="46.8" y1="193.9" x2="46.8" y2="322.9" stroke="#231f20" stroke-width="1" stroke-dasharray="1.8 1.4"/>
<line x1="43.0" y1="193.9" x2="50.6" y2="193.9" stroke="#231f20" stroke-width="1.8"/>
<line x1="43.0" y1="322.9" x2="50.6" y2="322.9" stroke="#231f20" stroke-width="1.8"/>
<text x="41.2" y="264.4" fill="#ecbc16" stroke="#ecbc16" stroke-width="0.35" text-anchor="middle" font-size="9px" font-weight="bold">E</text>
<text x="101.7" y="243.5" fill="#ecbc16" stroke="#ecbc16" stroke-width="0.4" text-anchor="middle" font-size="10px" font-weight="bold">A</text>
<text x="83.9" y="268.1" fill="#ecbc16" stroke="#ecbc16" stroke-width="0.4" text-anchor="middle" font-size="10px" font-weight="bold">B</text>
<text x="85.9" y="299.0" fill="#ecbc16" stroke="#ecbc16" stroke-width="0.4" text-anchor="middle" font-size="10px" font-weight="bold">C</text>
<text x="107.0" y="306.3" fill="#ecbc16" stroke="#ecbc16" stroke-width="0.4" text-anchor="middle" font-size="10px" font-weight="bold">D</text>
<path d="M282.5,200.2 C281.8,199.3 279.6,197.5 278.5,194.7 C277.4,191.9 276.5,187.3 276.1,183.6 C275.7,179.9 275.6,175.6 276.3,172.5 C277.0,169.3 278.2,166.6 280.4,164.8 C282.6,163.1 286.5,162.3 289.6,162.0 C292.7,161.7 296.6,161.7 299.1,162.9 C301.6,164.2 303.6,166.7 304.7,169.6 C305.8,172.5 305.8,177.0 305.8,180.4 C305.8,183.8 305.4,187.6 304.7,190.2 C304.0,192.9 302.6,194.9 301.5,196.3 C300.4,197.7 297.1,197.7 297.9,198.7 C298.6,199.6 303.5,200.5 305.8,202.0 C308.1,203.4 310.3,205.1 311.8,207.4 C313.3,209.7 314.1,212.7 314.7,215.6 C315.3,218.5 315.3,222.3 315.3,224.8 C315.4,227.4 315.2,228.8 315.0,230.9 C314.8,232.9 314.7,235.4 313.9,237.2 C313.1,239.0 311.9,240.6 310.4,241.8 C308.9,243.0 306.5,243.8 304.8,244.5 C303.2,245.2 302.1,245.2 300.7,246.1 C299.3,247.1 297.6,249.8 296.3,250.2 C294.9,250.7 293.6,249.6 292.8,249.0 C292.0,248.4 291.6,248.3 291.3,246.7 C291.1,245.2 290.3,241.2 291.3,239.4 C292.4,237.7 295.3,237.3 297.5,236.3 C299.8,235.2 303.5,233.6 304.7,233.1" fill="none" stroke="#231f20" stroke-width="1.1" stroke-linecap="round" stroke-linejoin="round"/>
<path d="M282.5,200.2 C281.1,200.6 276.2,201.4 274.0,202.6 C271.9,203.8 270.5,205.3 269.3,207.4 C268.1,209.5 267.3,212.4 266.7,215.3 C266.2,218.2 266.2,221.7 265.8,224.8 C265.4,228.0 265.0,231.4 264.2,234.4 C263.4,237.3 262.1,240.0 261.0,242.6 C260.0,245.2 258.2,247.9 257.9,249.9 C257.5,252.0 258.3,253.9 259.1,255.0 C259.9,256.1 261.6,256.5 262.6,256.3 C263.7,256.0 264.6,254.8 265.5,253.4 C266.4,252.0 267.2,249.8 268.2,247.9 C269.2,246.0 270.5,243.7 271.3,242.0 C272.2,240.3 272.8,238.3 273.1,237.5" fill="none" stroke="#231f20" stroke-width="1.1" stroke-linecap="round" stroke-linejoin="round"/>
<path d="M273.7,223.3 C273.5,225.6 272.7,232.0 272.5,237.5 C272.2,243.1 272.0,251.3 272.1,256.6 C272.3,261.9 272.9,265.1 273.4,269.3 C273.9,273.5 274.5,277.8 275.0,282.0 C275.5,286.2 276.3,290.7 276.6,294.7 C276.9,298.7 277.5,303.4 276.9,305.8 C276.3,308.2 274.3,307.9 273.1,309.0 C271.9,310.0 270.1,311.1 269.8,312.1 C269.5,313.2 269.9,315.1 271.3,315.3 C272.8,315.6 275.8,314.4 278.2,313.7 C280.6,313.1 284.0,312.9 285.6,311.3 C287.3,309.8 287.5,307.5 288.0,304.2 C288.5,300.9 288.8,295.9 288.8,291.5 C288.8,287.1 288.1,280.3 288.0,278.0" fill="none" stroke="#231f20" stroke-width="1.1" stroke-linecap="round" stroke-linejoin="round"/>
<path d="M289.6,277.2 C289.7,278.0 290.4,279.1 290.4,282.0 C290.4,284.9 289.9,290.7 289.6,294.7 C289.3,298.7 289.1,302.6 288.8,305.8 C288.5,309.0 288.1,311.6 287.7,313.7 C287.3,315.8 286.2,317.2 286.4,318.5 C286.6,319.8 287.2,321.4 288.8,321.7 C290.4,321.9 294.0,321.1 296.0,320.1 C297.9,319.0 299.8,317.2 300.7,315.3 C301.6,313.5 301.4,311.1 301.5,309.0 C301.6,306.9 301.2,305.3 301.5,302.6 C301.8,300.0 302.6,296.5 303.1,293.1 C303.6,289.7 304.2,286.0 304.7,282.0 C305.2,278.0 305.9,273.5 306.3,269.3 C306.7,265.1 307.1,260.3 307.1,256.6 C307.1,252.8 306.4,248.4 306.3,246.7" fill="none" stroke="#231f20" stroke-width="1.1" stroke-linecap="round" stroke-linejoin="round"/>
<path d="M304.7,223.3 C304.7,224.9 304.7,231.5 304.7,233.1" fill="none" stroke="#231f20" stroke-width="1.1" stroke-linecap="round" stroke-linejoin="round"/>
<ellipse cx="288.8" cy="224.8" rx="15.1" ry="5.1" fill="none" stroke="#231f20" stroke-width="1" stroke-dasharray="2 1.3"/>
<ellipse cx="289.6" cy="240.7" rx="15.9" ry="5.2" fill="none" stroke="#231f20" stroke-width="1" stroke-dasharray="2 1.3"/>
<ellipse cx="290.4" cy="258.2" rx="16.7" ry="6.0" fill="none" stroke="#231f20" stroke-width="1" stroke-dasharray="2 1.3"/>
<line x1="293.6" y1="276.9" x2="296.7" y2="309.8" stroke="#231f20" stroke-width="0.9" stroke-dasharray="1.6 1.2"/>
<line x1="295.6" y1="276.7" x2="291.6" y2="277.1" stroke="#231f20" stroke-width="1"/>
<line x1="298.7" y1="309.6" x2="294.8" y2="310.0" stroke="#231f20" stroke-width="1"/>
<line x1="230.6" y1="163.7" x2="230.6" y2="322.9" stroke="#231f20" stroke-width="1" stroke-dasharray="1.8 1.4"/>
<line x1="226.8" y1="163.7" x2="234.4" y2="163.7" stroke="#231f20" stroke-width="1.8"/>
<line x1="226.8" y1="322.9" x2="234.4" y2="322.9" stroke="#231f20" stroke-width="1.8"/>
<text x="224.5" y="234.2" fill="#de6a22" stroke="#de6a22" stroke-width="0.35" text-anchor="middle" font-size="9px" font-weight="bold">E</text>
<text x="297.2" y="217.5" fill="#de6a22" stroke="#de6a22" stroke-width="0.4" text-anchor="middle" font-size="10px" font-weight="bold">A</text>
<text x="286.7" y="245.0" fill="#de6a22" stroke="#de6a22" stroke-width="0.4" text-anchor="middle" font-size="10px" font-weight="bold">B</text>
<text x="301.0" y="274.4" fill="#de6a22" stroke="#de6a22" stroke-width="0.4" text-anchor="middle" font-size="10px" font-weight="bold">C</text>
<text x="299.1" y="290.2" fill="#de6a22" stroke="#de6a22" stroke-width="0.4" text-anchor="middle" font-size="10px" font-weight="bold">D</text>
<path d="M90.3,411.5 C89.7,410.7 87.3,408.9 86.3,406.7 C85.4,404.6 84.7,401.5 84.4,398.8 C84.2,396.2 84.0,393.1 84.8,390.9 C85.5,388.6 86.9,386.5 88.7,385.3 C90.6,384.1 93.5,383.7 95.9,383.7 C98.3,383.7 101.2,384.1 103.0,385.3 C104.9,386.5 106.2,388.6 107.0,390.9 C107.8,393.1 107.9,396.3 107.8,398.8 C107.6,401.3 107.0,404.0 106.2,406.0 C105.4,407.9 102.0,409.4 103.0,410.7 C104.1,412.0 109.5,412.4 112.5,413.9 C115.6,415.3 118.9,417.3 121.3,419.4 C123.6,421.6 125.3,424.1 126.5,426.6 C127.7,429.1 128.4,431.9 128.4,434.5 C128.5,437.2 127.8,440.1 126.8,442.5 C125.9,444.8 124.4,447.0 122.9,448.8 C121.3,450.7 119.3,452.1 117.6,453.6 C116.0,455.0 113.7,456.9 112.9,457.5" fill="none" stroke="#231f20" stroke-width="1.1" stroke-linecap="round" stroke-linejoin="round"/>
<path d="M90.3,411.5 C89.0,411.9 85.0,412.7 82.4,413.9 C79.7,415.1 76.9,416.9 74.4,418.7 C72.0,420.4 69.4,422.4 67.5,424.2 C65.5,426.1 63.7,427.8 62.7,429.8 C61.7,431.7 61.6,434.0 61.7,436.1 C61.9,438.2 62.6,440.4 63.7,442.5 C64.7,444.5 66.2,446.6 67.8,448.3 C69.4,450.1 71.3,451.5 73.2,452.8 C75.1,454.0 77.6,455.1 79.2,456.0 C80.8,456.8 82.1,457.5 82.7,457.9" fill="none" stroke="#231f20" stroke-width="1.1" stroke-linecap="round" stroke-linejoin="round"/>
<path d="M83.2,446.7 C82.7,446.7 81.5,447.1 80.5,446.7 C79.5,446.4 78.3,445.7 77.3,444.8 C76.3,444.0 75.3,442.9 74.8,441.7 C74.2,440.5 74.6,438.8 74.1,437.7 C73.7,436.6 71.9,435.9 72.1,435.0 C72.2,434.1 73.5,432.9 75.2,432.5 C77.0,432.0 81.2,432.2 82.4,432.1" fill="none" stroke="#231f20" stroke-width="1.1" stroke-linecap="round" stroke-linejoin="round"/>
<path d="M111.3,434.0 C112.1,434.0 115.2,433.4 116.5,433.7 C117.8,434.1 118.9,435.1 119.2,436.1 C119.5,437.2 118.5,438.6 118.1,440.1 C117.7,441.5 117.7,443.6 117.0,444.8 C116.3,446.1 114.7,447.2 113.8,447.7 C112.9,448.2 112.0,447.7 111.6,447.7" fill="none" stroke="#231f20" stroke-width="1.1" stroke-linecap="round" stroke-linejoin="round"/>
<path d="M82.7,457.9 C82.3,458.9 81.2,461.8 80.5,463.9 C79.8,466.0 79.1,467.9 78.4,470.2 C77.8,472.6 77.2,475.3 76.5,478.2 C75.8,481.1 75.2,484.5 74.4,487.7 C73.7,490.9 72.9,494.0 72.2,497.2 C71.6,500.4 71.1,503.8 70.5,506.7 C69.9,509.7 69.3,511.9 68.6,514.7 C67.9,517.5 67.0,520.6 66.2,523.4 C65.4,526.2 64.6,529.2 63.7,531.3 C62.8,533.5 61.4,535.1 60.8,536.6 C60.2,538.0 59.7,539.2 60.2,540.1 C60.6,540.9 62.0,541.4 63.7,541.7 C65.3,541.9 68.1,541.9 70.0,541.7 C71.9,541.4 74.1,541.4 75.2,540.1 C76.4,538.8 76.5,536.2 77.0,533.7 C77.4,531.2 77.1,528.7 77.9,525.0 C78.7,521.3 80.3,516.1 81.7,511.8 C83.2,507.5 84.9,503.3 86.5,499.1 C88.1,495.0 89.7,490.4 91.1,486.9 C92.5,483.4 93.6,478.7 94.8,478.2 C95.9,477.6 96.8,481.0 97.9,483.7 C99.1,486.4 100.3,490.7 101.7,494.4 C103.2,498.0 105.0,502.0 106.5,505.5 C108.0,508.9 109.7,512.1 111.0,515.0 C112.2,517.9 113.3,520.6 114.1,522.9 C114.9,525.3 115.3,527.2 115.7,529.3 C116.1,531.4 116.1,533.8 116.7,535.6 C117.2,537.4 117.7,539.1 119.2,540.1 C120.7,541.1 123.8,541.7 125.6,541.7 C127.4,541.7 129.4,541.1 130.0,540.1 C130.6,539.0 129.7,537.1 129.0,535.3 C128.4,533.5 126.8,531.4 126.0,529.3 C125.2,527.2 124.7,525.1 124.3,522.6 C123.9,520.2 124.0,517.5 123.5,514.7 C123.0,511.8 122.0,508.6 121.3,505.5 C120.5,502.4 119.8,498.7 118.9,496.0 C118.0,493.2 116.9,491.2 116.0,489.0 C115.2,486.7 114.4,485.2 113.8,482.6 C113.2,480.0 112.9,476.0 112.5,473.4 C112.2,470.8 111.9,469.2 111.9,467.1 C111.9,464.9 112.4,462.3 112.5,460.7 C112.7,459.1 112.8,458.1 112.9,457.5" fill="none" stroke="#231f20" stroke-width="1.1" stroke-linecap="round" stroke-linejoin="round"/>
<path d="M82.4,433.7 C82.5,436.0 83.0,445.0 83.2,447.2" fill="none" stroke="#231f20" stroke-width="1.1" stroke-linecap="round" stroke-linejoin="round"/>
<path d="M111.3,434.0 C111.3,436.2 111.7,445.0 111.7,447.2" fill="none" stroke="#231f20" stroke-width="1.1" stroke-linecap="round" stroke-linejoin="round"/>
<ellipse cx="96.7" cy="433.4" rx="14.3" ry="3.5" fill="none" stroke="#231f20" stroke-width="1" stroke-dasharray="2 1.3"/>
<ellipse cx="97.5" cy="448.8" rx="14.3" ry="3.5" fill="none" stroke="#231f20" stroke-width="1" stroke-dasharray="2 1.3"/>
<ellipse cx="95.4" cy="470.2" rx="16.7" ry="3.8" fill="none" stroke="#231f20" stroke-width="1" stroke-dasharray="2 1.3"/>
<line x1="99.8" y1="477.4" x2="120.8" y2="527.7" stroke="#231f20" stroke-width="0.9" stroke-dasharray="1.6 1.2"/>
<line x1="101.7" y1="476.6" x2="98.0" y2="478.1" stroke="#231f20" stroke-width="1"/>
<line x1="122.6" y1="526.9" x2="118.9" y2="528.5" stroke="#231f20" stroke-width="1"/>
<line x1="47.5" y1="384.8" x2="47.5" y2="541.7" stroke="#231f20" stroke-width="1" stroke-dasharray="1.8 1.4"/>
<line x1="43.7" y1="384.8" x2="51.3" y2="384.8" stroke="#231f20" stroke-width="1.8"/>
<line x1="43.7" y1="541.7" x2="51.3" y2="541.7" stroke="#231f20" stroke-width="1.8"/>
<text x="40.8" y="460.5" fill="#008945" stroke="#008945" stroke-width="0.35" text-anchor="middle" font-size="9px" font-weight="bold">E</text>
<text x="102.7" y="429.0" fill="#008945" stroke="#008945" stroke-width="0.4" text-anchor="middle" font-size="10px" font-weight="bold">A</text>
<text x="104.3" y="461.4" fill="#008945" stroke="#008945" stroke-width="0.4" text-anchor="middle" font-size="10px" font-weight="bold">B</text>
<text x="82.9" y="484.5" fill="#008945" stroke="#008945" stroke-width="0.4" text-anchor="middle" font-size="10px" font-weight="bold">C</text>
<text x="110.2" y="489.6" fill="#008945" stroke="#008945" stroke-width="0.4" text-anchor="middle" font-size="10px" font-weight="bold">D</text>
<path d="M273.7,410.7 C273.1,409.9 270.7,407.9 269.8,406.0 C268.8,404.0 268.1,401.3 267.9,398.8 C267.6,396.3 267.6,393.0 268.2,390.9 C268.8,388.7 269.6,387.0 271.3,385.8 C273.1,384.6 276.1,383.8 278.5,383.7 C280.9,383.7 283.8,384.1 285.6,385.3 C287.4,386.5 288.6,388.6 289.3,390.9 C290.0,393.1 290.1,396.3 289.9,398.8 C289.8,401.3 289.0,404.0 288.3,406.0 C287.6,407.9 284.6,409.0 285.6,410.2 C286.6,411.4 291.6,411.8 294.4,413.1 C297.1,414.4 300.1,416.1 302.3,417.9 C304.6,419.6 306.4,421.4 307.9,423.4 C309.3,425.4 310.5,427.5 311.0,429.8 C311.6,432.0 311.4,434.7 311.0,436.9 C310.6,439.2 309.7,441.3 308.7,443.3 C307.6,445.2 306.0,447.2 304.7,448.8 C303.4,450.4 302.2,451.5 300.7,452.8 C299.3,454.1 296.7,456.1 296.0,456.7" fill="none" stroke="#231f20" stroke-width="1.1" stroke-linecap="round" stroke-linejoin="round"/>
<path d="M269.8,387.7 C268.8,387.5 265.9,386.2 264.2,386.4 C262.5,386.7 260.8,387.9 259.4,389.3 C258.1,390.7 256.6,393.4 256.0,394.8 C255.3,396.3 255.2,397.2 255.5,398.0 C255.8,398.8 256.7,399.9 257.9,399.6 C259.0,399.3 260.9,397.6 262.6,396.4 C264.3,395.3 267.2,393.4 268.2,392.8" fill="none" stroke="#231f20" stroke-width="1.1" stroke-linecap="round" stroke-linejoin="round"/>
<path d="M288.3,387.4 C289.2,387.2 291.9,386.1 293.6,386.4 C295.2,386.7 297.0,388.0 298.3,389.3 C299.7,390.6 300.8,392.7 301.5,394.0 C302.2,395.4 302.6,396.4 302.3,397.2 C302.0,398.1 301.2,399.4 299.9,399.1 C298.6,398.9 296.1,396.7 294.4,395.6 C292.6,394.5 290.4,393.0 289.6,392.5" fill="none" stroke="#231f20" stroke-width="1.1" stroke-linecap="round" stroke-linejoin="round"/>
<path d="M273.7,410.7 C272.4,411.1 268.4,411.9 265.8,413.1 C263.1,414.3 260.4,416.1 257.9,417.9 C255.3,419.6 252.6,421.6 250.7,423.4 C248.8,425.3 247.3,427.0 246.4,429.0 C245.6,431.0 245.3,433.2 245.5,435.3 C245.7,437.4 246.5,439.6 247.5,441.7 C248.5,443.8 249.9,446.2 251.5,448.0 C253.1,449.9 255.2,451.5 257.1,452.8 C258.9,454.1 261.3,455.2 262.6,456.0 C263.9,456.7 264.6,457.3 265.0,457.5" fill="none" stroke="#231f20" stroke-width="1.1" stroke-linecap="round" stroke-linejoin="round"/>
<path d="M267.4,447.2 C266.9,447.2 265.3,447.4 264.2,447.2 C263.1,447.1 262.1,447.1 261.0,446.4 C260.0,445.8 258.5,444.4 257.9,443.3 C257.2,442.1 257.5,440.6 257.1,439.3 C256.7,438.0 255.3,436.3 255.5,435.3 C255.6,434.3 256.3,433.8 257.9,433.4 C259.4,433.0 263.8,433.0 265.0,432.9" fill="none" stroke="#231f20" stroke-width="1.1" stroke-linecap="round" stroke-linejoin="round"/>
<path d="M293.6,434.0 C294.8,434.0 299.2,433.6 300.7,434.0 C302.2,434.5 302.5,435.6 302.6,436.9 C302.8,438.2 302.0,440.1 301.5,441.7 C301.1,443.3 300.8,445.3 299.9,446.4 C299.0,447.5 297.2,448.1 296.0,448.3 C294.7,448.5 293.0,447.8 292.5,447.7" fill="none" stroke="#231f20" stroke-width="1.1" stroke-linecap="round" stroke-linejoin="round"/>
<path d="M265.0,457.5 C264.7,458.6 263.9,461.8 263.4,463.9 C262.9,466.0 262.4,468.5 261.8,470.2 C261.3,472.0 261.0,473.1 260.2,474.2 C259.5,475.3 257.9,475.9 257.5,476.6 C257.1,477.2 258.0,476.6 257.9,478.2 C257.7,479.8 257.1,483.2 256.6,486.1 C256.1,489.0 255.3,492.5 254.7,495.6 C254.1,498.8 253.6,502.0 253.1,505.2 C252.6,508.3 252.2,511.5 251.5,514.7 C250.8,517.9 250.1,521.3 249.1,524.2 C248.2,527.1 246.9,529.8 246.0,532.1 C245.0,534.5 243.4,537.0 243.6,538.5 C243.7,539.9 245.0,540.5 246.7,540.9 C248.5,541.3 252.0,541.3 253.9,540.9 C255.7,540.5 256.9,539.9 257.9,538.5 C258.8,537.0 258.8,534.8 259.4,532.1 C260.1,529.5 260.8,526.1 261.8,522.6 C262.9,519.2 264.3,515.5 265.8,511.5 C267.2,507.5 269.0,502.8 270.6,498.8 C272.1,494.8 273.8,491.0 275.0,487.7 C276.2,484.4 276.7,479.8 277.7,479.0 C278.7,478.2 279.6,480.7 280.9,482.9 C282.2,485.2 284.0,489.0 285.6,492.5 C287.2,495.9 288.8,499.9 290.4,503.6 C292.0,507.3 293.8,511.2 295.2,514.7 C296.5,518.1 297.5,521.3 298.3,524.2 C299.1,527.1 299.5,529.8 299.9,532.1 C300.3,534.5 300.1,537.0 300.7,538.5 C301.4,539.9 302.3,540.5 303.9,540.9 C305.5,541.3 308.7,541.1 310.2,540.9 C311.8,540.6 313.1,540.5 313.4,539.3 C313.7,538.1 312.6,536.0 311.8,533.7 C311.0,531.5 309.6,528.7 308.7,525.8 C307.7,522.9 306.9,519.4 306.3,516.3 C305.6,513.1 305.3,509.9 304.7,506.7 C304.0,503.6 303.0,500.1 302.3,497.2 C301.6,494.3 301.1,491.7 300.7,489.3 C300.3,486.9 299.9,484.8 299.9,482.9 C299.9,481.1 301.0,479.5 300.7,478.2 C300.4,476.9 298.9,476.3 298.3,475.0 C297.8,473.7 297.9,472.1 297.5,470.2 C297.2,468.4 296.5,466.1 296.3,463.9 C296.0,461.6 296.0,457.9 296.0,456.7" fill="none" stroke="#231f20" stroke-width="1.1" stroke-linecap="round" stroke-linejoin="round"/>
<path d="M265.0,433.7 C265.4,436.0 267.0,445.0 267.4,447.2" fill="none" stroke="#231f20" stroke-width="1.1" stroke-linecap="round" stroke-linejoin="round"/>
<path d="M293.6,434.0 C293.4,436.2 292.6,445.0 292.5,447.2" fill="none" stroke="#231f20" stroke-width="1.1" stroke-linecap="round" stroke-linejoin="round"/>
<ellipse cx="279.3" cy="432.5" rx="14.3" ry="3.5" fill="none" stroke="#231f20" stroke-width="1" stroke-dasharray="2 1.3"/>
<ellipse cx="280.4" cy="448.0" rx="14.0" ry="3.5" fill="none" stroke="#231f20" stroke-width="1" stroke-dasharray="2 1.3"/>
<ellipse cx="279.3" cy="470.2" rx="17.1" ry="3.5" fill="none" stroke="#231f20" stroke-width="1" stroke-dasharray="2 1.3"/>
<line x1="283.3" y1="477.4" x2="302.6" y2="527.7" stroke="#231f20" stroke-width="0.9" stroke-dasharray="1.6 1.2"/>
<line x1="285.1" y1="476.7" x2="281.4" y2="478.1" stroke="#231f20" stroke-width="1"/>
<line x1="304.5" y1="527.0" x2="300.8" y2="528.4" stroke="#231f20" stroke-width="1"/>
<line x1="231.3" y1="384.8" x2="231.3" y2="541.7" stroke="#231f20" stroke-width="1" stroke-dasharray="1.8 1.4"/>
<line x1="227.5" y1="384.8" x2="235.1" y2="384.8" stroke="#231f20" stroke-width="1.8"/>
<line x1="227.5" y1="541.7" x2="235.1" y2="541.7" stroke="#231f20" stroke-width="1.8"/>
<text x="224.2" y="460.5" fill="#8cb157" stroke="#8cb157" stroke-width="0.35" text-anchor="middle" font-size="9px" font-weight="bold">E</text>
<text x="287.2" y="429.0" fill="#8cb157" stroke="#8cb157" stroke-width="0.4" text-anchor="middle" font-size="10px" font-weight="bold">A</text>
<text x="286.7" y="460.7" fill="#8cb157" stroke="#8cb157" stroke-width="0.4" text-anchor="middle" font-size="10px" font-weight="bold">B</text>
<text x="267.4" y="482.5" fill="#8cb157" stroke="#8cb157" stroke-width="0.4" text-anchor="middle" font-size="10px" font-weight="bold">C</text>
<text x="293.6" y="485.6" fill="#8cb157" stroke="#8cb157" stroke-width="0.4" text-anchor="middle" font-size="10px" font-weight="bold">D</text>
<path d="M101.6,633.4 C101.0,632.4 98.8,629.9 98.1,627.4 C97.4,625.0 97.0,621.4 97.2,618.8 C97.5,616.2 98.2,613.7 99.8,611.9 C101.4,610.1 104.3,608.6 106.7,608.1 C109.2,607.6 112.3,607.7 114.5,608.8 C116.6,609.9 118.6,612.0 119.7,614.5 C120.7,617.0 120.7,621.1 120.5,624.0 C120.4,626.8 119.1,629.8 118.8,631.7 C118.5,633.7 117.5,634.5 118.8,635.7 C120.1,636.8 123.5,637.3 126.6,638.6 C129.6,640.0 134.2,641.6 136.9,643.8 C139.6,645.9 141.3,648.7 142.9,651.6 C144.6,654.4 146.0,658.7 146.9,661.0 C147.8,663.4 148.5,664.2 148.1,665.7 C147.7,667.2 146.5,668.4 144.7,670.2 C142.8,671.9 139.5,674.0 136.9,676.0 C134.3,678.1 131.4,680.7 129.3,682.6 C127.2,684.4 125.5,685.9 124.5,687.1 C123.4,688.2 123.3,689.1 123.1,689.5" fill="none" stroke="#231f20" stroke-width="1.1" stroke-linecap="round" stroke-linejoin="round"/>
<path d="M129.1,658.4 C129.8,659.7 132.9,664.0 133.1,666.2 C133.3,668.4 131.4,670.1 130.3,671.9 C129.3,673.7 127.6,675.6 126.6,677.1 C125.5,678.5 124.4,679.9 124.0,680.5" fill="none" stroke="#231f20" stroke-width="1.1" stroke-linecap="round" stroke-linejoin="round"/>
<path d="M101.6,634.0 C100.0,634.7 94.5,636.8 92.1,638.6 C89.6,640.4 88.2,642.5 86.9,644.7 C85.6,646.8 85.0,649.0 84.3,651.6 C83.6,654.1 83.4,657.3 82.6,660.2 C81.7,663.0 80.4,665.9 79.1,668.8 C77.8,671.7 76.4,674.3 74.8,677.4 C73.2,680.6 71.2,684.3 69.7,687.8 C68.1,691.2 66.4,695.4 65.3,698.1 C64.3,700.8 63.6,702.7 63.6,704.1 C63.6,705.6 64.3,706.6 65.3,706.7 C66.4,706.9 68.2,705.8 69.7,705.0 C71.1,704.2 72.9,702.9 74.0,701.9 C75.1,700.9 75.6,700.2 76.2,699.0 C76.8,697.8 76.6,696.5 77.4,694.7 C78.2,692.8 79.6,690.6 80.9,687.8 C82.2,684.9 83.7,680.3 85.2,677.4 C86.6,674.5 88.2,672.8 89.5,670.5 C90.8,668.2 92.2,665.6 92.9,663.6 C93.7,661.7 93.9,659.6 94.1,658.8" fill="none" stroke="#231f20" stroke-width="1.1" stroke-linecap="round" stroke-linejoin="round"/>
<path d="M94.7,658.8 C95.4,662.2 98.2,676.0 99.0,679.5" fill="none" stroke="#231f20" stroke-width="1.1" stroke-linecap="round" stroke-linejoin="round"/>
<path d="M127.9,658.8 C127.3,662.3 124.6,676.5 124.0,680.0" fill="none" stroke="#231f20" stroke-width="1.1" stroke-linecap="round" stroke-linejoin="round"/>
<path d="M99.0,681.7 C98.5,683.9 97.2,690.2 96.4,694.7 C95.5,699.1 94.6,703.3 93.8,708.4 C93.0,713.6 92.2,719.9 91.7,725.7 C91.3,731.4 91.2,737.8 91.2,742.9 C91.2,748.1 91.5,752.7 91.7,756.7 C91.9,760.7 92.9,764.8 92.4,767.1 C91.9,769.4 90.1,769.1 88.6,770.5 C87.1,772.0 85.1,774.0 83.4,775.7 C81.8,777.4 79.8,779.4 78.6,780.9 C77.5,782.3 76.0,783.6 76.6,784.3 C77.1,785.0 79.7,785.3 81.7,785.2 C83.7,785.0 86.3,784.2 88.6,783.4 C90.9,782.7 93.6,781.6 95.5,780.9 C97.4,780.1 99.0,780.1 99.8,779.1 C100.6,778.1 100.6,776.6 100.3,774.8 C100.1,773.1 98.3,771.2 98.1,768.8 C97.9,766.4 98.2,763.6 99.0,760.2 C99.7,756.7 101.3,752.4 102.4,748.1 C103.6,743.8 104.9,738.6 105.9,734.3 C106.9,730.0 107.8,726.3 108.4,722.2 C109.1,718.2 108.9,711.0 109.7,710.2 C110.4,709.3 111.4,713.9 112.8,717.1 C114.1,720.2 116.5,724.8 117.9,729.1 C119.4,733.4 120.4,738.3 121.4,742.9 C122.4,747.5 123.1,752.1 124.0,756.7 C124.8,761.3 125.7,766.8 126.6,770.5 C127.4,774.3 128.3,776.8 129.1,779.1 C130.0,781.4 130.4,782.7 131.7,784.3 C133.0,785.9 135.2,788.0 136.9,788.6 C138.6,789.2 141.2,788.5 142.1,787.8 C142.9,787.0 142.9,785.7 142.1,784.3 C141.2,782.9 138.3,780.9 136.9,779.1 C135.5,777.4 134.3,776.6 133.4,774.0 C132.6,771.4 132.2,767.6 131.7,763.6 C131.3,759.6 131.1,754.4 130.9,749.8 C130.6,745.2 130.3,740.6 130.0,736.0 C129.7,731.4 129.6,727.1 129.1,722.2 C128.7,717.4 128.0,711.6 127.4,706.7 C126.8,701.8 126.2,696.1 125.7,692.9 C125.2,689.8 124.7,688.6 124.5,687.8" fill="none" stroke="#231f20" stroke-width="1.1" stroke-linecap="round" stroke-linejoin="round"/>
<ellipse cx="111.0" cy="658.4" rx="16.7" ry="4.3" fill="none" stroke="#231f20" stroke-width="1" stroke-dasharray="2 1.3"/>
<ellipse cx="111.0" cy="680.3" rx="12.6" ry="3.8" fill="none" stroke="#231f20" stroke-width="1" stroke-dasharray="2 1.3"/>
<line x1="102.4" y1="709.3" x2="92.9" y2="767.9" stroke="#231f20" stroke-width="0.9" stroke-dasharray="1.6 1.2"/>
<line x1="104.4" y1="709.6" x2="100.4" y2="709.0" stroke="#231f20" stroke-width="1"/>
<line x1="94.9" y1="768.3" x2="91.0" y2="767.6" stroke="#231f20" stroke-width="1"/>
<line x1="47.8" y1="611.9" x2="47.8" y2="789.5" stroke="#231f20" stroke-width="1" stroke-dasharray="1.8 1.4"/>
<line x1="44.0" y1="611.9" x2="51.6" y2="611.9" stroke="#231f20" stroke-width="1.8"/>
<line x1="44.0" y1="789.5" x2="51.6" y2="789.5" stroke="#231f20" stroke-width="1.8"/>
<text x="40.7" y="701.4" fill="#1f5a93" stroke="#1f5a93" stroke-width="0.35" text-anchor="middle" font-size="9px" font-weight="bold">E</text>
<text x="113.1" y="651.3" fill="#1f5a93" stroke="#1f5a93" stroke-width="0.4" text-anchor="middle" font-size="10px" font-weight="bold">A</text>
<text x="119.7" y="693.3" fill="#1f5a93" stroke="#1f5a93" stroke-width="0.4" text-anchor="middle" font-size="10px" font-weight="bold">B</text>
<text x="102.1" y="707.6" fill="#1f5a93" stroke="#1f5a93" stroke-width="0.4" text-anchor="middle" font-size="10px" font-weight="bold">D</text>
<path d="M281.4,638.6 C281.2,637.6 280.3,634.7 280.2,632.6 C280.0,630.4 280.6,627.4 280.5,625.7 C280.4,624.0 279.8,622.8 279.7,622.2" fill="none" stroke="#231f20" stroke-width="1.1" stroke-linecap="round" stroke-linejoin="round"/>
<path d="M279.7,624.0 C279.5,624.8 279.4,627.6 278.8,629.1 C278.2,630.7 277.4,632.3 276.2,633.4 C275.1,634.6 273.3,635.5 271.9,636.0 C270.5,636.6 267.9,637.5 267.6,636.9 C267.3,636.3 269.3,634.2 270.2,632.6 C271.0,631.0 272.3,629.1 272.8,627.4 C273.2,625.7 273.0,624.0 272.8,622.2 C272.5,620.5 270.9,618.6 271.0,617.1 C271.2,615.5 272.0,613.8 273.6,612.8 C275.2,611.8 277.9,611.5 280.5,611.0 C283.1,610.6 286.6,610.2 289.1,610.2 C291.7,610.2 294.2,610.3 296.0,611.0 C297.9,611.8 299.3,612.8 300.3,614.5 C301.4,616.2 301.9,618.9 302.1,621.4 C302.2,623.8 301.9,626.8 301.2,629.1 C300.5,631.4 299.1,633.6 298.1,635.2 C297.1,636.8 294.4,637.8 295.2,638.6 C296.0,639.5 300.5,639.5 302.9,640.3 C305.4,641.2 307.8,642.2 309.8,643.8 C311.8,645.4 313.4,647.7 315.0,649.8 C316.6,652.0 318.4,654.5 319.3,656.7 C320.2,659.0 320.7,661.2 320.5,663.3 C320.4,665.3 319.5,667.5 318.4,669.1 C317.4,670.8 315.6,672.0 314.1,673.3 C312.6,674.5 310.9,675.3 309.5,676.6 C308.0,677.8 306.2,680.1 305.5,680.9" fill="none" stroke="#231f20" stroke-width="1.1" stroke-linecap="round" stroke-linejoin="round"/>
<path d="M299.5,653.6 C300.4,653.9 303.2,654.3 305.0,655.3 C306.8,656.4 309.1,658.4 310.2,660.2 C311.2,661.9 311.6,664.0 311.2,665.7 C310.9,667.4 309.3,669.2 308.1,670.5 C307.0,671.8 305.6,673.2 304.3,673.6 C303.0,674.1 301.0,673.2 300.3,673.1" fill="none" stroke="#231f20" stroke-width="1.1" stroke-linecap="round" stroke-linejoin="round"/>
<path d="M281.4,640.3 C279.8,640.6 274.6,641.1 271.9,642.1 C269.2,643.1 267.3,644.5 265.0,646.4 C262.7,648.2 260.4,651.0 258.1,653.3 C255.8,655.6 253.0,657.9 251.2,660.2 C249.4,662.5 247.8,665.2 247.4,667.1 C247.0,669.0 247.7,670.1 248.8,671.6 C249.9,673.0 252.1,674.3 254.0,675.7 C255.9,677.1 258.0,678.7 260.2,680.0 C262.3,681.3 264.8,682.7 266.7,683.4 C268.7,684.2 271.0,684.5 271.9,684.7" fill="none" stroke="#231f20" stroke-width="1.1" stroke-linecap="round" stroke-linejoin="round"/>
<path d="M266.7,654.1 C265.7,655.1 262.4,658.2 260.7,660.2 C259.0,662.1 256.5,664.2 256.4,665.7 C256.3,667.2 258.4,667.9 260.2,669.1 C261.9,670.4 264.6,671.9 266.7,673.3 C268.9,674.7 271.9,676.7 272.9,677.4" fill="none" stroke="#231f20" stroke-width="1.1" stroke-linecap="round" stroke-linejoin="round"/>
<path d="M270.2,655.0 C270.9,658.7 273.8,673.7 274.5,677.4" fill="none" stroke="#231f20" stroke-width="1.1" stroke-linecap="round" stroke-linejoin="round"/>
<path d="M296.0,655.0 C296.6,657.9 298.9,669.7 299.5,672.6" fill="none" stroke="#231f20" stroke-width="1.1" stroke-linecap="round" stroke-linejoin="round"/>
<path d="M271.9,684.7 C271.2,686.9 268.9,693.9 267.6,698.1 C266.3,702.4 265.2,706.7 264.1,710.2 C263.1,713.6 259.9,716.8 261.2,718.8 C262.5,720.8 267.2,721.4 271.9,722.2 C276.6,723.0 283.1,723.9 289.1,723.6 C295.2,723.3 303.2,721.8 308.1,720.5 C313.0,719.3 317.4,719.1 318.4,716.2 C319.5,713.3 315.6,707.4 314.1,703.3 C312.7,699.1 311.2,694.7 309.8,691.2 C308.5,687.8 306.7,684.0 306.0,682.6" fill="none" stroke="#231f20" stroke-width="1.1" stroke-linecap="round" stroke-linejoin="round"/>
<path d="M276.2,724.0 C275.9,726.0 275.2,732.0 274.5,736.0 C273.8,740.1 272.6,744.1 271.9,748.1 C271.2,752.1 270.5,756.4 270.2,760.2 C269.8,763.9 269.8,767.4 269.8,770.5 C269.8,773.7 270.4,776.8 270.2,779.1 C269.9,781.4 268.2,782.7 268.4,784.3 C268.7,785.9 270.5,787.8 271.9,788.6 C273.3,789.4 275.8,789.9 277.1,789.1 C278.4,788.4 279.3,786.3 279.7,784.3 C280.0,782.4 278.9,780.3 279.1,777.4 C279.4,774.5 280.6,770.8 281.4,767.1 C282.2,763.3 283.1,759.0 284.0,755.0 C284.8,751.0 285.8,746.7 286.6,742.9 C287.3,739.2 287.7,735.7 288.3,732.6 C288.9,729.4 289.7,725.4 290.0,724.0" fill="none" stroke="#231f20" stroke-width="1.1" stroke-linecap="round" stroke-linejoin="round"/>
<path d="M291.7,724.0 C291.9,726.0 291.9,732.0 292.6,736.0 C293.3,740.1 295.5,744.1 296.0,748.1 C296.6,752.1 296.5,756.4 296.0,760.2 C295.6,763.9 294.2,767.6 293.4,770.5 C292.7,773.4 292.4,775.1 291.7,777.4 C291.0,779.7 289.1,782.4 289.1,784.3 C289.1,786.2 290.4,787.8 291.7,788.6 C293.0,789.4 295.6,789.9 296.9,789.1 C298.2,788.4 299.1,786.3 299.5,784.3 C299.9,782.4 299.2,780.3 299.5,777.4 C299.8,774.5 300.5,770.8 301.2,767.1 C301.9,763.3 303.2,759.0 303.8,755.0 C304.4,751.0 304.5,746.7 304.7,742.9 C304.9,739.2 305.0,736.0 305.0,732.6 C305.0,729.1 304.7,724.0 304.7,722.2" fill="none" stroke="#231f20" stroke-width="1.1" stroke-linecap="round" stroke-linejoin="round"/>
<ellipse cx="283.1" cy="657.6" rx="12.9" ry="3.1" fill="none" stroke="#231f20" stroke-width="1" stroke-dasharray="2 1.3"/>
<ellipse cx="286.6" cy="672.2" rx="12.1" ry="3.1" fill="none" stroke="#231f20" stroke-width="1" stroke-dasharray="2 1.3"/>
<ellipse cx="290.0" cy="692.9" rx="19.8" ry="4.3" fill="none" stroke="#231f20" stroke-width="1" stroke-dasharray="2 1.3"/>
<line x1="297.8" y1="722.2" x2="306.4" y2="785.2" stroke="#231f20" stroke-width="0.9" stroke-dasharray="1.6 1.2"/>
<line x1="299.7" y1="722.0" x2="295.8" y2="722.5" stroke="#231f20" stroke-width="1"/>
<line x1="308.4" y1="784.9" x2="304.4" y2="785.4" stroke="#231f20" stroke-width="1"/>
<line x1="232.2" y1="611.9" x2="232.2" y2="789.8" stroke="#231f20" stroke-width="1" stroke-dasharray="1.8 1.4"/>
<line x1="228.4" y1="611.9" x2="236.0" y2="611.9" stroke="#231f20" stroke-width="1.8"/>
<line x1="228.4" y1="789.8" x2="236.0" y2="789.8" stroke="#231f20" stroke-width="1.8"/>
<text x="224.5" y="700.5" fill="#6c5294" stroke="#6c5294" stroke-width="0.35" text-anchor="middle" font-size="9px" font-weight="bold">E</text>
<text x="290.0" y="653.3" fill="#6c5294" stroke="#6c5294" stroke-width="0.4" text-anchor="middle" font-size="10px" font-weight="bold">A</text>
<text x="296.9" y="683.0" fill="#6c5294" stroke="#6c5294" stroke-width="0.4" text-anchor="middle" font-size="10px" font-weight="bold">B</text>
<text x="307.2" y="705.1" fill="#6c5294" stroke="#6c5294" stroke-width="0.4" text-anchor="middle" font-size="10px" font-weight="bold">C</text>
<text x="309.0" y="766.3" fill="#6c5294" stroke="#6c5294" stroke-width="0.4" text-anchor="middle" font-size="10px" font-weight="bold">D</text>
<path d="M105.3,885.0 C104.7,883.9 102.5,881.2 101.7,878.6 C101.0,876.0 100.5,872.2 100.8,869.5 C101.1,866.8 101.9,864.1 103.5,862.3 C105.2,860.4 108.2,858.8 110.8,858.3 C113.4,857.7 116.7,857.9 119.0,859.0 C121.2,860.1 123.3,862.3 124.4,865.0 C125.5,867.6 125.5,871.9 125.3,875.0 C125.2,878.0 123.8,881.1 123.5,883.1 C123.2,885.2 122.1,886.1 123.5,887.3 C124.9,888.5 128.5,889.0 131.7,890.4 C134.8,891.8 139.7,893.6 142.6,895.8 C145.4,898.1 147.2,901.0 148.9,904.0 C150.7,907.0 152.2,911.5 153.1,914.0 C154.0,916.5 154.8,917.3 154.4,918.9 C154.0,920.5 152.7,921.8 150.7,923.6 C148.8,925.4 145.3,927.6 142.6,929.8 C139.9,932.0 136.8,934.8 134.6,936.7 C132.4,938.6 130.6,940.2 129.5,941.4 C128.4,942.6 128.3,943.5 128.0,944.0" fill="none" stroke="#231f20" stroke-width="1.1" stroke-linecap="round" stroke-linejoin="round"/>
<path d="M134.4,911.3 C135.1,912.6 138.4,917.1 138.6,919.5 C138.8,921.8 136.8,923.5 135.7,925.4 C134.5,927.3 132.8,929.4 131.7,930.9 C130.6,932.4 129.4,933.9 128.9,934.5" fill="none" stroke="#231f20" stroke-width="1.1" stroke-linecap="round" stroke-linejoin="round"/>
<path d="M105.3,885.5 C103.7,886.3 97.9,888.5 95.4,890.4 C92.8,892.3 91.3,894.5 89.9,896.8 C88.6,899.0 87.9,901.3 87.2,904.0 C86.4,906.7 86.3,910.1 85.4,913.1 C84.5,916.1 83.1,919.1 81.7,922.2 C80.4,925.2 78.9,927.9 77.2,931.3 C75.5,934.6 73.4,938.5 71.8,942.1 C70.1,945.8 68.3,950.2 67.2,953.0 C66.2,955.9 65.4,957.9 65.4,959.4 C65.4,960.9 66.2,962.0 67.2,962.1 C68.3,962.3 70.2,961.1 71.8,960.3 C73.3,959.5 75.1,958.1 76.3,957.0 C77.4,956.0 78.1,955.2 78.7,953.9 C79.3,952.7 79.1,951.4 79.9,949.4 C80.7,947.4 82.2,945.2 83.6,942.1 C84.9,939.1 86.6,934.3 88.1,931.3 C89.6,928.2 91.3,926.4 92.6,924.0 C94.0,921.6 95.5,918.8 96.3,916.7 C97.1,914.7 97.3,912.5 97.5,911.6" fill="none" stroke="#231f20" stroke-width="1.1" stroke-linecap="round" stroke-linejoin="round"/>
<path d="M98.1,911.6 C98.8,915.3 101.9,929.8 102.6,933.4" fill="none" stroke="#231f20" stroke-width="1.1" stroke-linecap="round" stroke-linejoin="round"/>
<path d="M133.1,911.6 C132.4,915.4 129.6,930.3 128.9,934.0" fill="none" stroke="#231f20" stroke-width="1.1" stroke-linecap="round" stroke-linejoin="round"/>
<path d="M102.6,935.8 C102.2,938.1 100.8,944.7 99.9,949.4 C99.0,954.1 98.0,958.5 97.2,963.9 C96.4,969.4 95.5,976.0 95.0,982.1 C94.5,988.1 94.5,994.8 94.5,1000.2 C94.5,1005.7 94.8,1010.5 95.0,1014.8 C95.2,1019.0 96.3,1023.2 95.7,1025.7 C95.2,1028.1 93.3,1027.8 91.7,1029.3 C90.2,1030.8 88.0,1032.9 86.3,1034.7 C84.5,1036.6 82.4,1038.7 81.2,1040.2 C80.0,1041.7 78.5,1043.1 79.0,1043.8 C79.6,1044.6 82.3,1044.9 84.5,1044.7 C86.6,1044.6 89.3,1043.7 91.7,1042.9 C94.1,1042.2 97.0,1040.9 99.0,1040.2 C101.0,1039.4 102.7,1039.4 103.5,1038.4 C104.4,1037.3 104.4,1035.6 104.1,1033.8 C103.8,1032.0 102.0,1030.0 101.7,1027.5 C101.5,1024.9 101.9,1022.0 102.6,1018.4 C103.4,1014.8 105.0,1010.2 106.3,1005.7 C107.5,1001.2 108.8,995.7 109.9,991.2 C110.9,986.6 111.9,982.7 112.6,978.5 C113.3,974.2 113.1,966.7 113.9,965.7 C114.6,964.8 115.7,969.7 117.1,973.0 C118.6,976.3 121.1,981.2 122.6,985.7 C124.1,990.3 125.2,995.4 126.2,1000.2 C127.3,1005.1 128.0,1009.9 128.9,1014.8 C129.9,1019.6 130.8,1025.4 131.7,1029.3 C132.6,1033.2 133.5,1035.9 134.4,1038.4 C135.3,1040.8 135.8,1042.2 137.1,1043.8 C138.5,1045.5 140.7,1047.7 142.6,1048.4 C144.4,1049.0 147.1,1048.2 148.0,1047.4 C148.9,1046.7 148.9,1045.3 148.0,1043.8 C147.1,1042.3 144.1,1040.2 142.6,1038.4 C141.1,1036.6 139.8,1035.6 138.9,1032.9 C138.0,1030.2 137.6,1026.3 137.1,1022.0 C136.7,1017.8 136.5,1012.3 136.2,1007.5 C135.9,1002.7 135.6,997.8 135.3,993.0 C135.0,988.1 134.8,983.6 134.4,978.5 C133.9,973.3 133.2,967.3 132.6,962.1 C132.0,957.0 131.3,950.9 130.8,947.6 C130.2,944.3 129.7,943.1 129.5,942.1" fill="none" stroke="#231f20" stroke-width="1.1" stroke-linecap="round" stroke-linejoin="round"/>
<ellipse cx="115.3" cy="911.3" rx="17.6" ry="4.5" fill="none" stroke="#231f20" stroke-width="1" stroke-dasharray="2 1.3"/>
<ellipse cx="115.3" cy="934.3" rx="13.3" ry="4.0" fill="none" stroke="#231f20" stroke-width="1" stroke-dasharray="2 1.3"/>
<line x1="106.3" y1="964.8" x2="96.3" y2="1026.6" stroke="#231f20" stroke-width="0.9" stroke-dasharray="1.6 1.2"/>
<line x1="108.2" y1="965.2" x2="104.3" y2="964.5" stroke="#231f20" stroke-width="1"/>
<line x1="98.2" y1="1026.9" x2="94.3" y2="1026.2" stroke="#231f20" stroke-width="1"/>
<line x1="48.7" y1="862.3" x2="48.7" y2="1049.3" stroke="#231f20" stroke-width="1" stroke-dasharray="1.8 1.4"/>
<line x1="44.9" y1="862.3" x2="52.5" y2="862.3" stroke="#231f20" stroke-width="1.8"/>
<line x1="44.9" y1="1049.3" x2="52.5" y2="1049.3" stroke="#231f20" stroke-width="1.8"/>
<text x="41.3" y="956.3" fill="#1f5a93" stroke="#1f5a93" stroke-width="0.35" text-anchor="middle" font-size="9px" font-weight="bold">E</text>
<text x="117.5" y="903.5" fill="#1f5a93" stroke="#1f5a93" stroke-width="0.4" text-anchor="middle" font-size="10px" font-weight="bold">A</text>
<text x="124.4" y="947.8" fill="#1f5a93" stroke="#1f5a93" stroke-width="0.4" text-anchor="middle" font-size="10px" font-weight="bold">B</text>
<text x="105.9" y="962.9" fill="#1f5a93" stroke="#1f5a93" stroke-width="0.4" text-anchor="middle" font-size="10px" font-weight="bold">D</text>
<path d="M284.8,887.2 C285.2,886.3 287.2,883.5 287.6,881.6 C287.9,879.8 287.0,878.2 286.6,876.0 C286.3,873.9 285.5,871.1 285.3,868.6 C285.2,866.1 284.4,863.0 285.7,861.2 C287.0,859.4 290.3,858.4 293.1,857.8 C295.9,857.2 300.0,856.9 302.4,857.4 C304.9,858.0 306.6,859.3 308.0,861.2 C309.4,863.0 310.0,866.0 310.8,868.6 C311.6,871.2 312.8,875.1 312.7,877.0 C312.5,878.8 311.3,879.0 309.9,879.8 C308.5,880.5 305.9,881.0 304.3,881.6 C302.8,882.2 301.4,882.6 300.6,883.5 C299.8,884.4 298.7,886.1 299.7,887.2 C300.6,888.3 304.3,889.0 306.2,890.0 C308.0,891.0 309.7,891.7 310.8,893.2 C311.9,894.6 312.2,896.6 312.7,898.7 C313.1,900.9 313.2,903.2 313.6,905.8 C314.0,908.4 314.3,911.2 314.9,914.2 C315.5,917.1 316.1,920.4 317.0,923.5 C317.8,926.6 318.7,929.8 319.7,932.8 C320.8,935.8 322.1,938.9 323.3,941.5 C324.5,944.2 325.8,946.8 327.0,948.6 C328.2,950.4 329.7,950.8 330.3,952.3 C331.0,953.9 331.1,956.6 330.7,957.9 C330.3,959.2 329.1,960.1 328.1,960.1 C327.1,960.2 325.7,959.1 324.8,958.3 C323.8,957.4 323.3,957.0 322.5,955.1 C321.8,953.3 321.1,950.0 320.1,947.1 C319.1,944.2 317.8,940.9 316.6,937.8 C315.4,934.8 314.1,931.7 313.0,928.9 C312.0,926.0 310.7,922.1 310.3,920.7" fill="none" stroke="#231f20" stroke-width="1.1" stroke-linecap="round" stroke-linejoin="round"/>
<path d="M284.8,887.2 C283.5,887.5 279.3,888.1 277.3,889.1 C275.3,890.1 273.8,891.2 272.7,893.2 C271.6,895.1 271.3,897.8 270.8,900.6 C270.3,903.4 270.3,906.5 269.9,909.9 C269.4,913.3 268.8,917.3 268.0,921.1 C267.2,924.8 266.3,928.8 265.2,932.2 C264.1,935.6 262.8,938.8 261.5,941.5 C260.3,944.3 259.0,946.8 257.8,948.6 C256.6,950.4 254.5,950.8 254.1,952.3 C253.6,953.9 254.2,956.7 255.0,957.9 C255.8,959.1 257.5,959.6 258.7,959.4 C260.0,959.2 261.5,958.0 262.4,957.0 C263.4,956.0 263.5,955.3 264.3,953.3 C265.1,951.2 266.0,947.8 267.1,944.9 C268.2,941.9 269.6,938.6 270.8,935.6 C272.1,932.5 273.4,929.4 274.5,926.7 C275.7,923.9 277.0,920.4 277.5,919.2" fill="none" stroke="#231f20" stroke-width="1.1" stroke-linecap="round" stroke-linejoin="round"/>
<path d="M279.2,911.4 C279.7,912.9 281.0,917.9 282.0,920.7 C282.9,923.5 284.6,925.3 284.8,928.1 C284.9,930.9 283.5,935.0 282.9,937.4 C282.3,939.9 281.8,940.2 281.0,943.0 C280.3,945.8 279.2,950.7 278.3,954.2 C277.3,957.7 276.2,960.4 275.5,963.9 C274.7,967.3 272.5,972.6 273.6,974.7 C274.7,976.7 278.4,975.9 282.0,976.1 C285.5,976.4 290.7,976.3 295.0,976.0 C299.3,975.6 303.4,975.1 308.0,974.3 C312.7,973.4 321.0,972.7 322.9,970.9 C324.8,969.1 320.6,966.3 319.2,963.5 C317.8,960.7 315.9,957.6 314.5,954.2 C313.1,950.8 311.7,945.8 310.8,943.0 C309.9,940.2 309.4,939.9 309.0,937.4 C308.5,935.0 308.0,930.9 308.0,928.1 C308.0,925.3 308.5,923.5 309.0,920.7 C309.4,917.9 310.5,912.9 310.8,911.4" fill="none" stroke="#231f20" stroke-width="1.1" stroke-linecap="round" stroke-linejoin="round"/>
<path d="M308.0,900.2 C308.5,900.9 310.3,902.7 310.8,904.3 C311.4,905.9 311.3,909.0 311.4,909.9" fill="none" stroke="#231f20" stroke-width="1.1" stroke-linecap="round" stroke-linejoin="round"/>
<path d="M282.9,976.1 C282.6,978.1 281.5,983.9 281.0,987.7 C280.6,991.5 280.2,995.1 280.1,998.8 C280.0,1002.6 280.2,1006.3 280.5,1010.0 C280.8,1013.7 281.6,1018.1 282.0,1021.2 C282.4,1024.3 282.8,1026.1 282.9,1028.6 C283.0,1031.1 282.8,1033.9 282.3,1036.0 C281.9,1038.2 280.3,1040.1 280.1,1041.6 C279.9,1043.2 280.1,1044.9 281.0,1045.3 C282.0,1045.8 284.3,1045.3 285.7,1044.4 C287.1,1043.5 288.5,1041.5 289.4,1039.8 C290.3,1038.1 290.8,1036.4 291.3,1034.2 C291.7,1032.0 292.4,1029.5 292.2,1026.7 C292.1,1024.0 290.2,1020.9 290.3,1017.4 C290.5,1014.0 292.4,1010.6 293.1,1006.3 C293.9,1001.9 294.7,996.0 295.0,991.4 C295.3,986.7 295.0,980.5 295.0,978.4" fill="none" stroke="#231f20" stroke-width="1.1" stroke-linecap="round" stroke-linejoin="round"/>
<path d="M296.9,978.4 C296.6,980.5 295.5,986.7 295.0,991.4 C294.5,996.0 294.1,1001.9 294.1,1006.3 C294.1,1010.6 294.5,1014.3 295.0,1017.4 C295.5,1020.5 296.7,1022.1 296.9,1024.9 C297.0,1027.7 295.6,1031.4 295.9,1034.2 C296.2,1037.0 297.6,1039.6 298.7,1041.6 C299.8,1043.6 300.9,1045.2 302.4,1046.3 C304.0,1047.4 306.6,1048.3 308.0,1048.1 C309.4,1048.0 310.8,1047.1 310.8,1045.3 C310.8,1043.6 308.8,1040.7 308.0,1037.9 C307.2,1035.1 306.3,1032.0 306.2,1028.6 C306.0,1025.2 306.8,1021.8 307.1,1017.4 C307.4,1013.1 307.8,1007.5 308.0,1002.6 C308.2,997.6 308.4,992.2 308.4,987.7 C308.4,983.2 308.1,977.6 308.0,975.6" fill="none" stroke="#231f20" stroke-width="1.1" stroke-linecap="round" stroke-linejoin="round"/>
<ellipse cx="295.0" cy="911.0" rx="15.8" ry="3.3" fill="none" stroke="#231f20" stroke-width="1" stroke-dasharray="2 1.3"/>
<ellipse cx="295.9" cy="927.8" rx="12.1" ry="3.3" fill="none" stroke="#231f20" stroke-width="1" stroke-dasharray="2 1.3"/>
<ellipse cx="295.9" cy="941.2" rx="14.9" ry="3.3" fill="none" stroke="#231f20" stroke-width="1" stroke-dasharray="2 1.3"/>
<line x1="298.7" y1="970.9" x2="302.1" y2="1028.6" stroke="#231f20" stroke-width="0.9" stroke-dasharray="1.6 1.2"/>
<line x1="300.7" y1="970.8" x2="296.7" y2="971.0" stroke="#231f20" stroke-width="1"/>
<line x1="304.1" y1="1028.5" x2="300.1" y2="1028.7" stroke="#231f20" stroke-width="1"/>
<line x1="233.6" y1="858.7" x2="233.6" y2="1046.8" stroke="#231f20" stroke-width="1" stroke-dasharray="1.8 1.4"/>
<line x1="229.8" y1="858.7" x2="237.4" y2="858.7" stroke="#231f20" stroke-width="1.8"/>
<line x1="229.8" y1="1046.8" x2="237.4" y2="1046.8" stroke="#231f20" stroke-width="1.8"/>
<text x="224.3" y="953.4" fill="#3886b0" stroke="#3886b0" stroke-width="0.35" text-anchor="middle" font-size="9px" font-weight="bold">E</text>
<text x="295.9" y="904.7" fill="#3886b0" stroke="#3886b0" stroke-width="0.4" text-anchor="middle" font-size="10px" font-weight="bold">A</text>
<text x="296.9" y="928.8" fill="#3886b0" stroke="#3886b0" stroke-width="0.4" text-anchor="middle" font-size="10px" font-weight="bold">B</text>
<text x="296.9" y="955.8" fill="#3886b0" stroke="#3886b0" stroke-width="0.4" text-anchor="middle" font-size="10px" font-weight="bold">C</text>
<text x="306.2" y="972.6" fill="#3886b0" stroke="#3886b0" stroke-width="0.4" text-anchor="middle" font-size="10px" font-weight="bold">D</text></svg>
<div class="flab" style="left:45.50px;top:333.50px;letter-spacing:3.40px;color:#ecbc16">INFANT</div>
<div class="flab" style="left:222.50px;top:333.50px;letter-spacing:1.57px;color:#de6a22">TODDLER</div>
<div class="flab" style="left:60.00px;top:550.50px;letter-spacing:2.67px;color:#008945">MALE</div>
<div class="flab" style="left:232.50px;top:550.50px;letter-spacing:1.32px;color:#8cb157">FEMALE</div>
<div class="flab" style="left:76.00px;top:798.00px;letter-spacing:2.13px;color:#6c5294">MALE</div>
<div class="flab" style="left:235.00px;top:798.00px;letter-spacing:1.08px;color:#6c5294">FEMALE</div>
<div class="flab" style="left:77.00px;top:1059.00px;letter-spacing:2.60px;color:#105a91">MALE</div>
<div class="flab" style="left:242.00px;top:1059.00px;letter-spacing:1.16px;color:#3886b0">FEMALE</div>
<div class="fsub" style="left:82.50px;top:573.00px;letter-spacing:0.35px">child</div>
<div class="fsub" style="left:268.00px;top:573.00px;letter-spacing:0.35px">child</div>
<div class="fsub" style="left:71.00px;top:822.00px;letter-spacing:1.24px">teen, tween</div>
<div class="fsub" style="left:245.00px;top:822.00px;letter-spacing:1.24px">teen, tween</div>
<div class="fsub" style="left:96.50px;top:1080.50px;letter-spacing:1.00px">adult</div>
<div class="fsub" style="left:275.00px;top:1080.50px;letter-spacing:1.35px">adult</div>
</body></html>
